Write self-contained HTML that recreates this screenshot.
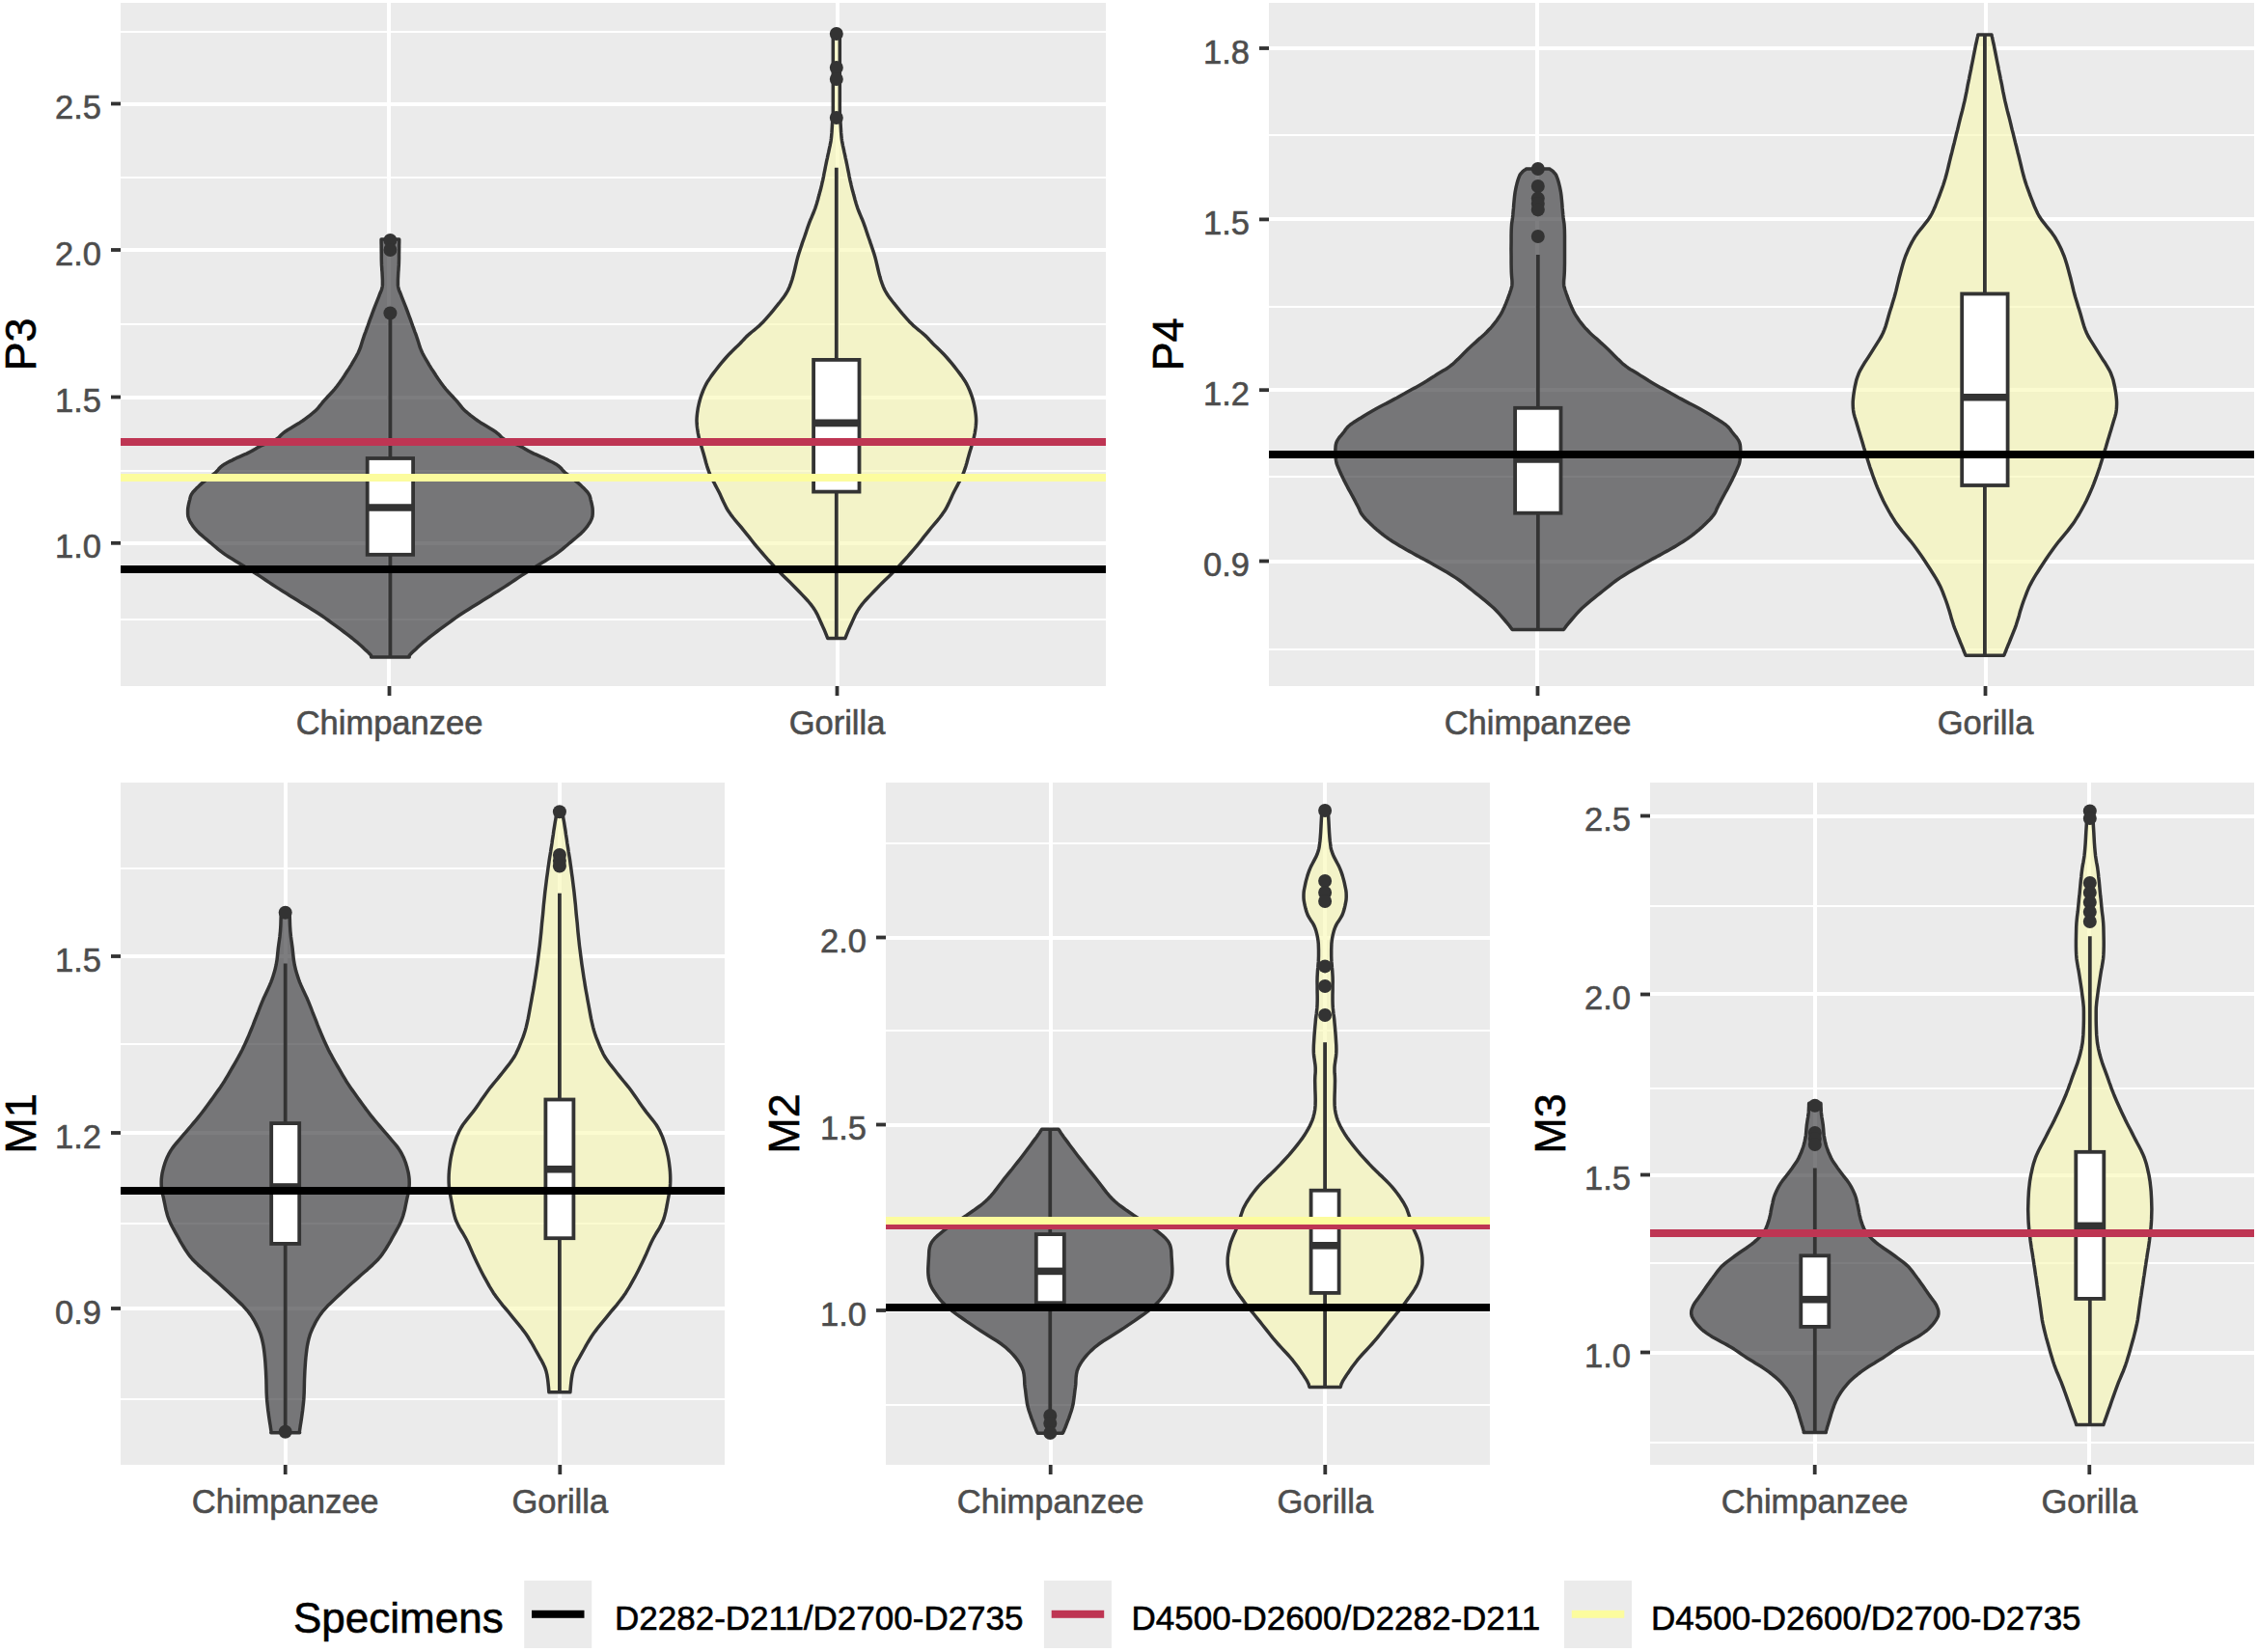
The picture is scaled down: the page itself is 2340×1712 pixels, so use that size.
<!DOCTYPE html>
<html><head><meta charset="utf-8"><style>
html,body{margin:0;padding:0;background:#fff;}
body{width:2340px;height:1712px;overflow:hidden;}
svg{display:block;font-family:"Liberation Sans",sans-serif;}
text{stroke-width:0.6px;}
.g{fill:#4D4D4D;stroke:#4D4D4D;}
.k{fill:#000;stroke:#000;}
</style></head><body>
<svg width="2340" height="1712" viewBox="0 0 2340 1712">
<rect width="2340" height="1712" fill="#FFFFFF"/>
<defs><clipPath id="cP3"><rect x="125" y="3" width="1021" height="708"/></clipPath></defs>
<rect x="125" y="3" width="1021" height="708" fill="#EBEBEB"/>
<g clip-path="url(#cP3)">
<line x1="125" x2="1146" y1="642.0" y2="642.0" stroke="#FFF" stroke-width="2"/>
<line x1="125" x2="1146" y1="488.0" y2="488.0" stroke="#FFF" stroke-width="2"/>
<line x1="125" x2="1146" y1="336.0" y2="336.0" stroke="#FFF" stroke-width="2"/>
<line x1="125" x2="1146" y1="184.0" y2="184.0" stroke="#FFF" stroke-width="2"/>
<line x1="125" x2="1146" y1="33.0" y2="33.0" stroke="#FFF" stroke-width="2"/>
<line x1="125" x2="1146" y1="563.0" y2="563.0" stroke="#FFF" stroke-width="4"/>
<line x1="125" x2="1146" y1="412.0" y2="412.0" stroke="#FFF" stroke-width="4"/>
<line x1="125" x2="1146" y1="259.0" y2="259.0" stroke="#FFF" stroke-width="4"/>
<line x1="125" x2="1146" y1="108.0" y2="108.0" stroke="#FFF" stroke-width="4"/>
<line x1="403.0" x2="403.0" y1="3" y2="711" stroke="#FFF" stroke-width="4"/>
<line x1="868.0" x2="868.0" y1="3" y2="711" stroke="#FFF" stroke-width="4"/>
<path d="M395.1,248.1 L395.1,250.8 L395.2,254.7 L395.2,259.2 L395.3,263.9 L395.3,268.3 L395.4,272.0 L395.5,274.9 L395.7,277.5 L395.8,279.8 L396.0,281.9 L396.1,284.0 L396.2,286.0 L396.3,288.0 L396.4,290.0 L396.4,291.9 L396.4,293.7 L396.4,295.4 L396.2,297.0 L395.9,298.4 L395.6,299.7 L395.2,300.8 L394.7,302.0 L394.1,303.5 L393.4,305.2 L392.6,307.3 L391.6,309.8 L390.6,312.4 L389.5,315.1 L388.4,317.9 L387.4,320.5 L386.4,323.1 L385.5,325.6 L384.6,328.1 L383.6,330.7 L382.7,333.2 L381.8,335.8 L380.9,338.4 L379.9,341.0 L379.0,343.6 L378.0,346.2 L377.1,348.7 L376.3,351.1 L375.6,353.3 L374.9,355.5 L374.3,357.5 L373.7,359.5 L372.9,361.5 L372.1,363.6 L371.1,365.7 L370.0,367.8 L368.8,370.0 L367.6,372.1 L366.4,374.2 L365.2,376.2 L364.1,378.1 L363.0,379.9 L361.9,381.7 L360.7,383.4 L359.5,385.3 L358.2,387.3 L356.8,389.5 L355.3,391.7 L353.7,394.1 L352.0,396.5 L350.3,398.8 L348.5,401.2 L346.5,403.6 L344.4,406.0 L342.1,408.5 L339.9,410.8 L337.8,413.1 L335.9,415.2 L334.3,417.0 L333.0,418.7 L331.8,420.2 L330.6,421.7 L329.3,423.3 L327.6,424.9 L325.7,426.7 L323.5,428.5 L321.3,430.4 L318.9,432.2 L316.3,434.1 L313.7,436.0 L310.8,437.9 L307.7,439.8 L304.4,441.8 L301.2,443.7 L298.2,445.5 L295.6,447.2 L293.5,448.8 L291.9,450.2 L290.5,451.6 L289.2,453.0 L287.7,454.3 L285.8,455.5 L283.5,456.7 L281.0,457.8 L278.3,458.8 L275.6,459.9 L273.0,460.9 L270.5,462.0 L268.3,463.1 L266.2,464.3 L264.3,465.4 L262.3,466.6 L260.2,467.7 L258.0,468.9 L255.6,470.1 L253.0,471.2 L250.3,472.4 L247.6,473.6 L245.0,474.7 L242.6,475.9 L240.3,477.1 L238.0,478.2 L235.8,479.3 L233.7,480.5 L231.8,481.6 L230.1,482.8 L228.7,483.9 L227.6,485.0 L226.7,486.0 L225.8,487.2 L224.7,488.4 L223.2,489.8 L221.2,491.4 L218.9,493.2 L216.4,495.2 L213.8,497.1 L211.4,499.1 L209.2,500.9 L207.3,502.6 L205.4,504.4 L203.6,506.1 L202.1,507.7 L200.7,509.2 L199.5,510.7 L198.6,512.0 L198.0,513.1 L197.6,514.1 L197.3,515.1 L197.0,516.2 L196.7,517.6 L196.3,519.2 L195.8,521.1 L195.4,523.0 L195.0,525.0 L194.7,527.0 L194.6,528.8 L194.6,530.5 L194.6,532.1 L194.7,533.6 L194.9,535.2 L195.4,536.8 L196.0,538.5 L196.9,540.3 L197.9,542.1 L199.2,544.0 L200.5,545.9 L202.1,547.8 L203.7,549.7 L205.5,551.5 L207.4,553.4 L209.5,555.2 L211.6,557.0 L213.9,558.9 L216.2,560.8 L218.6,562.8 L221.1,565.0 L223.7,567.1 L226.3,569.3 L228.9,571.4 L231.5,573.3 L234.0,575.1 L236.5,576.7 L239.0,578.3 L241.5,579.8 L244.1,581.4 L246.8,583.1 L249.6,584.8 L252.5,586.6 L255.5,588.4 L258.6,590.2 L261.7,592.2 L264.9,594.2 L268.2,596.4 L271.6,598.6 L275.1,601.0 L278.6,603.4 L282.2,605.7 L285.8,608.1 L289.4,610.4 L293.1,612.8 L296.9,615.1 L300.6,617.4 L304.4,619.8 L308.1,622.1 L311.9,624.4 L315.6,626.7 L319.4,629.1 L323.2,631.4 L326.9,633.7 L330.4,636.0 L333.8,638.3 L337.1,640.6 L340.4,643.0 L343.5,645.3 L346.7,647.6 L349.8,649.9 L352.9,652.2 L356.0,654.5 L359.1,656.8 L362.1,659.2 L365.1,661.5 L367.9,663.8 L370.8,666.2 L373.7,668.8 L376.6,671.4 L379.2,673.9 L381.5,676.0 L383.2,677.7 L384.3,678.9 L384.7,679.7 L384.9,680.2 L384.8,680.5 L384.6,680.8 L384.6,681.0 L424.2,681.0 L424.2,680.8 L424.0,680.5 L423.9,680.2 L424.1,679.7 L424.5,678.9 L425.6,677.7 L427.3,676.0 L429.6,673.9 L432.2,671.4 L435.1,668.8 L438.0,666.2 L440.9,663.8 L443.7,661.5 L446.7,659.2 L449.7,656.8 L452.8,654.5 L455.9,652.2 L459.0,649.9 L462.1,647.6 L465.3,645.3 L468.4,643.0 L471.7,640.6 L475.0,638.3 L478.4,636.0 L481.9,633.7 L485.6,631.4 L489.4,629.1 L493.2,626.7 L496.9,624.4 L500.7,622.1 L504.4,619.8 L508.2,617.4 L511.9,615.1 L515.7,612.8 L519.4,610.4 L523.0,608.1 L526.6,605.7 L530.2,603.4 L533.7,601.0 L537.2,598.6 L540.6,596.4 L543.9,594.2 L547.1,592.2 L550.2,590.2 L553.3,588.4 L556.3,586.6 L559.2,584.8 L562.0,583.1 L564.7,581.4 L567.3,579.8 L569.8,578.3 L572.3,576.7 L574.8,575.1 L577.3,573.3 L579.9,571.4 L582.5,569.3 L585.1,567.1 L587.7,565.0 L590.2,562.8 L592.6,560.8 L594.9,558.9 L597.2,557.0 L599.3,555.2 L601.4,553.4 L603.3,551.5 L605.1,549.7 L606.7,547.8 L608.3,545.9 L609.6,544.0 L610.9,542.1 L611.9,540.3 L612.8,538.5 L613.4,536.8 L613.9,535.2 L614.1,533.6 L614.2,532.1 L614.2,530.5 L614.2,528.8 L614.1,527.0 L613.8,525.0 L613.4,523.0 L613.0,521.1 L612.5,519.2 L612.1,517.6 L611.8,516.2 L611.5,515.1 L611.2,514.1 L610.8,513.1 L610.2,512.0 L609.3,510.7 L608.1,509.2 L606.7,507.7 L605.1,506.1 L603.4,504.4 L601.5,502.6 L599.6,500.9 L597.4,499.1 L595.0,497.1 L592.4,495.2 L589.9,493.2 L587.6,491.4 L585.6,489.8 L584.1,488.4 L583.0,487.2 L582.1,486.0 L581.2,485.0 L580.1,483.9 L578.7,482.8 L577.0,481.6 L575.1,480.5 L573.0,479.3 L570.8,478.2 L568.5,477.1 L566.2,475.9 L563.8,474.7 L561.2,473.6 L558.5,472.4 L555.8,471.2 L553.2,470.1 L550.8,468.9 L548.6,467.7 L546.5,466.6 L544.5,465.4 L542.6,464.3 L540.5,463.1 L538.3,462.0 L535.8,460.9 L533.2,459.9 L530.5,458.8 L527.8,457.8 L525.3,456.7 L523.0,455.5 L521.1,454.3 L519.6,453.0 L518.3,451.6 L516.9,450.2 L515.2,448.8 L513.2,447.2 L510.6,445.5 L507.6,443.7 L504.4,441.8 L501.1,439.8 L498.0,437.9 L495.1,436.0 L492.5,434.1 L489.9,432.2 L487.5,430.4 L485.3,428.5 L483.1,426.7 L481.2,424.9 L479.5,423.3 L478.2,421.7 L477.0,420.2 L475.8,418.7 L474.5,417.0 L472.9,415.2 L471.0,413.1 L468.9,410.8 L466.7,408.5 L464.4,406.0 L462.3,403.6 L460.3,401.2 L458.5,398.8 L456.8,396.5 L455.1,394.1 L453.5,391.7 L452.0,389.5 L450.6,387.3 L449.3,385.3 L448.1,383.4 L446.9,381.7 L445.8,379.9 L444.7,378.1 L443.6,376.2 L442.4,374.2 L441.2,372.1 L440.0,370.0 L438.8,367.8 L437.7,365.7 L436.7,363.6 L435.9,361.5 L435.1,359.5 L434.5,357.5 L433.9,355.5 L433.2,353.3 L432.5,351.1 L431.7,348.7 L430.8,346.2 L429.8,343.6 L428.9,341.0 L427.9,338.4 L427.0,335.8 L426.1,333.2 L425.2,330.7 L424.2,328.1 L423.3,325.6 L422.4,323.1 L421.4,320.5 L420.4,317.9 L419.3,315.1 L418.2,312.4 L417.2,309.8 L416.2,307.3 L415.4,305.2 L414.7,303.5 L414.1,302.0 L413.6,300.8 L413.2,299.7 L412.9,298.4 L412.6,297.0 L412.4,295.4 L412.4,293.7 L412.4,291.9 L412.4,290.0 L412.5,288.0 L412.6,286.0 L412.7,284.0 L412.8,281.9 L413.0,279.8 L413.1,277.5 L413.3,274.9 L413.4,272.0 L413.5,268.3 L413.5,263.9 L413.6,259.2 L413.6,254.7 L413.7,250.8 L413.7,248.1Z" fill="#333337" fill-opacity="0.64" stroke="#333333" stroke-width="3.5" stroke-linejoin="round"/>
<path d="M863.3,37.0 L863.3,46.9 L863.3,61.4 L863.3,78.2 L863.3,95.0 L863.3,109.6 L863.3,119.9 L863.3,125.0 L863.2,126.7 L863.1,126.3 L863.1,124.9 L862.9,123.9 L862.8,124.6 L862.6,127.0 L862.4,130.1 L862.2,133.6 L862.0,137.2 L861.7,140.6 L861.4,143.5 L861.1,145.8 L860.8,147.7 L860.4,149.4 L860.1,151.1 L859.7,152.9 L859.2,155.1 L858.7,157.7 L858.0,160.6 L857.4,163.6 L856.7,166.7 L856.1,169.7 L855.5,172.5 L855.0,175.1 L854.5,177.6 L854.0,180.0 L853.6,182.3 L853.1,184.7 L852.6,187.1 L852.0,189.5 L851.5,191.9 L850.9,194.4 L850.3,196.8 L849.6,199.2 L849.0,201.6 L848.3,204.0 L847.7,206.4 L847.0,208.8 L846.3,211.3 L845.5,213.7 L844.7,216.1 L843.8,218.5 L842.8,221.0 L841.8,223.4 L840.8,225.8 L839.7,228.3 L838.8,230.7 L837.9,233.1 L837.0,235.6 L836.2,238.0 L835.4,240.5 L834.6,242.9 L833.8,245.2 L833.0,247.5 L832.2,249.7 L831.4,251.9 L830.7,254.1 L830.0,256.2 L829.3,258.3 L828.7,260.2 L828.1,261.9 L827.6,263.6 L827.1,265.3 L826.5,267.3 L825.9,269.7 L825.2,272.6 L824.4,276.0 L823.6,279.5 L822.7,283.2 L821.8,286.6 L820.9,289.7 L820.0,292.4 L819.2,294.7 L818.3,297.0 L817.4,299.1 L816.3,301.3 L814.9,303.7 L813.3,306.2 L811.4,308.9 L809.4,311.5 L807.3,314.2 L805.1,316.9 L802.9,319.6 L800.7,322.3 L798.4,325.1 L796.0,327.8 L793.6,330.6 L791.3,333.2 L788.9,335.6 L786.5,337.9 L784.0,340.0 L781.5,342.1 L779.1,344.0 L776.9,345.9 L774.9,347.6 L773.3,349.1 L772.0,350.5 L770.9,351.7 L769.8,352.9 L768.5,354.3 L766.9,356.0 L764.9,357.9 L762.7,360.0 L760.4,362.3 L757.9,364.7 L755.4,367.3 L752.9,370.0 L750.3,373.0 L747.4,376.4 L744.6,379.9 L741.8,383.5 L739.2,386.9 L737.0,389.9 L735.2,392.6 L733.6,394.9 L732.3,397.1 L731.2,399.3 L730.1,401.5 L729.0,403.9 L728.0,406.5 L727.0,409.1 L726.1,411.8 L725.3,414.5 L724.6,417.2 L724.0,419.9 L723.4,422.6 L723.0,425.2 L722.6,427.9 L722.3,430.6 L722.1,433.2 L722.0,435.9 L722.1,438.5 L722.3,441.2 L722.6,443.8 L723.0,446.4 L723.4,449.1 L724.0,451.9 L724.6,454.7 L725.4,457.6 L726.2,460.6 L727.1,463.6 L728.1,466.7 L729.0,469.8 L729.9,473.0 L730.8,476.3 L731.7,479.7 L732.7,483.1 L733.8,486.4 L735.0,489.8 L736.4,493.1 L738.0,496.5 L739.8,499.8 L741.5,503.1 L743.3,506.5 L745.0,509.8 L746.6,513.1 L748.1,516.5 L749.6,519.8 L751.2,523.1 L752.9,526.5 L754.9,529.8 L757.2,533.1 L759.8,536.5 L762.5,539.8 L765.3,543.1 L768.2,546.5 L770.9,549.8 L773.5,553.1 L776.2,556.4 L778.8,559.8 L781.4,563.1 L784.1,566.4 L786.9,569.7 L789.8,573.0 L792.7,576.4 L795.6,579.7 L798.7,583.0 L801.8,586.4 L804.9,589.7 L808.1,593.0 L811.5,596.4 L814.9,599.7 L818.3,603.0 L821.7,606.4 L824.9,609.7 L828.1,613.0 L831.3,616.4 L834.5,619.7 L837.5,623.0 L840.3,626.4 L842.8,629.7 L845.0,633.1 L846.9,636.6 L848.6,640.2 L850.1,643.6 L851.5,646.7 L852.8,649.6 L854.0,652.2 L855.0,654.6 L855.9,656.8 L856.7,658.8 L857.3,660.4 L857.8,661.6 L875.8,661.6 L876.3,660.4 L876.9,658.8 L877.7,656.8 L878.6,654.6 L879.6,652.2 L880.8,649.6 L882.1,646.7 L883.5,643.6 L885.0,640.2 L886.7,636.6 L888.6,633.1 L890.8,629.7 L893.3,626.4 L896.1,623.0 L899.1,619.7 L902.3,616.4 L905.5,613.0 L908.7,609.7 L911.9,606.4 L915.3,603.0 L918.7,599.7 L922.1,596.4 L925.5,593.0 L928.7,589.7 L931.8,586.4 L934.9,583.0 L937.9,579.7 L940.9,576.4 L943.8,573.0 L946.7,569.7 L949.5,566.4 L952.2,563.1 L954.8,559.8 L957.4,556.4 L960.1,553.1 L962.7,549.8 L965.4,546.5 L968.3,543.1 L971.1,539.8 L973.8,536.5 L976.4,533.1 L978.7,529.8 L980.7,526.5 L982.4,523.1 L984.0,519.8 L985.5,516.5 L987.0,513.1 L988.6,509.8 L990.3,506.5 L992.1,503.1 L993.8,499.8 L995.6,496.5 L997.2,493.1 L998.6,489.8 L999.8,486.4 L1000.9,483.1 L1001.9,479.7 L1002.8,476.3 L1003.7,473.0 L1004.6,469.8 L1005.5,466.7 L1006.5,463.6 L1007.3,460.6 L1008.2,457.6 L1009.0,454.7 L1009.6,451.9 L1010.2,449.1 L1010.6,446.4 L1011.0,443.8 L1011.3,441.2 L1011.5,438.5 L1011.6,435.9 L1011.5,433.2 L1011.3,430.6 L1011.0,427.9 L1010.6,425.2 L1010.2,422.6 L1009.6,419.9 L1009.0,417.2 L1008.3,414.5 L1007.5,411.8 L1006.6,409.1 L1005.6,406.5 L1004.6,403.9 L1003.5,401.5 L1002.4,399.3 L1001.3,397.1 L1000.0,394.9 L998.4,392.6 L996.6,389.9 L994.4,386.9 L991.8,383.5 L989.0,379.9 L986.2,376.4 L983.3,373.0 L980.7,370.0 L978.2,367.3 L975.7,364.7 L973.2,362.3 L970.9,360.0 L968.7,357.9 L966.7,356.0 L965.1,354.3 L963.8,352.9 L962.7,351.7 L961.6,350.5 L960.3,349.1 L958.7,347.6 L956.7,345.9 L954.5,344.0 L952.1,342.1 L949.6,340.0 L947.1,337.9 L944.7,335.6 L942.3,333.2 L940.0,330.6 L937.6,327.8 L935.2,325.1 L932.9,322.3 L930.7,319.6 L928.5,316.9 L926.3,314.2 L924.2,311.5 L922.2,308.9 L920.3,306.2 L918.7,303.7 L917.3,301.3 L916.2,299.1 L915.3,297.0 L914.4,294.7 L913.6,292.4 L912.7,289.7 L911.8,286.6 L910.9,283.2 L910.0,279.5 L909.2,276.0 L908.4,272.6 L907.7,269.7 L907.1,267.3 L906.5,265.3 L906.0,263.6 L905.5,261.9 L904.9,260.2 L904.3,258.3 L903.6,256.2 L902.9,254.1 L902.1,251.9 L901.4,249.7 L900.6,247.5 L899.8,245.2 L899.0,242.9 L898.2,240.5 L897.4,238.0 L896.6,235.6 L895.7,233.1 L894.8,230.7 L893.9,228.3 L892.8,225.8 L891.8,223.4 L890.8,221.0 L889.8,218.5 L888.9,216.1 L888.1,213.7 L887.3,211.3 L886.6,208.8 L885.9,206.4 L885.3,204.0 L884.6,201.6 L884.0,199.2 L883.3,196.8 L882.7,194.4 L882.1,191.9 L881.6,189.5 L881.0,187.1 L880.5,184.7 L880.0,182.3 L879.6,180.0 L879.1,177.6 L878.6,175.1 L878.1,172.5 L877.5,169.7 L876.9,166.7 L876.2,163.6 L875.6,160.6 L874.9,157.7 L874.4,155.1 L873.9,152.9 L873.5,151.1 L873.2,149.4 L872.8,147.7 L872.5,145.8 L872.2,143.5 L871.9,140.6 L871.6,137.2 L871.4,133.6 L871.2,130.1 L871.0,127.0 L870.8,124.6 L870.7,123.9 L870.5,124.9 L870.5,126.3 L870.4,126.7 L870.3,125.0 L870.3,119.9 L870.3,109.6 L870.3,95.0 L870.3,78.2 L870.3,61.4 L870.3,46.9 L870.3,37.0Z" fill="#F8F8B1" fill-opacity="0.6" stroke="#333333" stroke-width="3.5" stroke-linejoin="round"/>
<line x1="404.4" x2="404.4" y1="330.0" y2="475.0" stroke="#333333" stroke-width="3.8"/>
<line x1="404.4" x2="404.4" y1="574.8" y2="681.0" stroke="#333333" stroke-width="3.8"/>
<rect x="380.7" y="475.0" width="47.4" height="99.8" fill="#FFFFFF" stroke="#333333" stroke-width="3.8"/>
<line x1="380.7" x2="428.1" y1="526.0" y2="526.0" stroke="#333333" stroke-width="7.6"/>
<circle cx="404.4" cy="249.0" r="7" fill="#333333"/>
<circle cx="404.4" cy="259.0" r="7" fill="#333333"/>
<circle cx="404.4" cy="324.5" r="7" fill="#333333"/>
<line x1="866.8" x2="866.8" y1="173.8" y2="372.9" stroke="#333333" stroke-width="3.8"/>
<line x1="866.8" x2="866.8" y1="509.6" y2="661.6" stroke="#333333" stroke-width="3.8"/>
<rect x="843.1" y="372.9" width="47.4" height="136.7" fill="#FFFFFF" stroke="#333333" stroke-width="3.8"/>
<line x1="843.1" x2="890.5" y1="438.4" y2="438.4" stroke="#333333" stroke-width="7.6"/>
<circle cx="866.8" cy="35.0" r="7" fill="#333333"/>
<circle cx="866.8" cy="70.0" r="7" fill="#333333"/>
<circle cx="866.8" cy="82.0" r="7" fill="#333333"/>
<circle cx="866.8" cy="122.0" r="7" fill="#333333"/>
<rect x="125" y="586" width="1021" height="8" fill="#000000"/>
<rect x="125" y="454" width="1021" height="8" fill="#BE3553"/>
<rect x="125" y="491" width="1021" height="8" fill="#FCFC9E"/>
</g>
<line x1="115" x2="125" y1="562.8" y2="562.8" stroke="#333333" stroke-width="3.8"/>
<text x="105" y="578.4" font-size="34.5" class="g" text-anchor="end">1.0</text>
<line x1="115" x2="125" y1="411.5" y2="411.5" stroke="#333333" stroke-width="3.8"/>
<text x="105" y="427.1" font-size="34.5" class="g" text-anchor="end">1.5</text>
<line x1="115" x2="125" y1="259.0" y2="259.0" stroke="#333333" stroke-width="3.8"/>
<text x="105" y="274.6" font-size="34.5" class="g" text-anchor="end">2.0</text>
<line x1="115" x2="125" y1="107.5" y2="107.5" stroke="#333333" stroke-width="3.8"/>
<text x="105" y="123.1" font-size="34.5" class="g" text-anchor="end">2.5</text>
<line x1="403.5" x2="403.5" y1="711" y2="721" stroke="#333333" stroke-width="3.8"/>
<text x="403.5" y="760.5" font-size="34.5" class="g" text-anchor="middle">Chimpanzee</text>
<line x1="867.5" x2="867.5" y1="711" y2="721" stroke="#333333" stroke-width="3.8"/>
<text x="867.5" y="760.5" font-size="34.5" class="g" text-anchor="middle">Gorilla</text>
<text transform="translate(21,357.0) rotate(-90)" x="0" y="16" font-size="45" class="k" text-anchor="middle">P3</text>
<defs><clipPath id="cP4"><rect x="1315" y="3" width="1021" height="708"/></clipPath></defs>
<rect x="1315" y="3" width="1021" height="708" fill="#EBEBEB"/>
<g clip-path="url(#cP4)">
<line x1="1315" x2="2336" y1="673.0" y2="673.0" stroke="#FFF" stroke-width="2"/>
<line x1="1315" x2="2336" y1="494.0" y2="494.0" stroke="#FFF" stroke-width="2"/>
<line x1="1315" x2="2336" y1="318.0" y2="318.0" stroke="#FFF" stroke-width="2"/>
<line x1="1315" x2="2336" y1="140.0" y2="140.0" stroke="#FFF" stroke-width="2"/>
<line x1="1315" x2="2336" y1="582.0" y2="582.0" stroke="#FFF" stroke-width="4"/>
<line x1="1315" x2="2336" y1="404.0" y2="404.0" stroke="#FFF" stroke-width="4"/>
<line x1="1315" x2="2336" y1="227.0" y2="227.0" stroke="#FFF" stroke-width="4"/>
<line x1="1315" x2="2336" y1="50.0" y2="50.0" stroke="#FFF" stroke-width="4"/>
<line x1="1593.0" x2="1593.0" y1="3" y2="711" stroke="#FFF" stroke-width="4"/>
<line x1="2058.0" x2="2058.0" y1="3" y2="711" stroke="#FFF" stroke-width="4"/>
<path d="M1581.8,175.0 L1581.4,175.3 L1580.8,175.7 L1580.0,176.2 L1579.3,176.7 L1578.5,177.3 L1577.8,178.0 L1577.2,178.7 L1576.6,179.3 L1576.0,180.0 L1575.3,180.9 L1574.7,182.1 L1574.1,183.6 L1573.4,185.5 L1572.7,187.8 L1572.0,190.3 L1571.3,193.1 L1570.7,196.1 L1570.1,199.3 L1569.6,202.9 L1569.2,206.9 L1568.8,211.2 L1568.5,215.4 L1568.1,219.4 L1567.8,223.0 L1567.5,225.8 L1567.2,228.0 L1566.9,229.9 L1566.6,232.0 L1566.4,234.8 L1566.2,238.7 L1566.1,244.2 L1566.1,250.9 L1566.0,258.3 L1566.1,265.8 L1566.1,272.5 L1566.2,278.0 L1566.3,282.1 L1566.5,285.4 L1566.7,288.0 L1566.9,290.1 L1567.0,292.0 L1567.0,293.8 L1566.9,295.4 L1566.8,296.5 L1566.6,297.3 L1566.4,298.1 L1566.1,298.9 L1565.8,300.0 L1565.4,301.3 L1564.9,302.8 L1564.4,304.3 L1563.8,305.8 L1563.3,307.4 L1562.7,308.9 L1562.2,310.4 L1561.6,311.8 L1561.0,313.3 L1560.5,314.8 L1559.8,316.2 L1559.2,317.7 L1558.5,319.2 L1557.8,320.7 L1557.1,322.2 L1556.4,323.6 L1555.6,325.1 L1554.7,326.6 L1553.8,328.1 L1552.8,329.5 L1551.8,331.0 L1550.8,332.5 L1549.7,333.9 L1548.5,335.4 L1547.3,336.9 L1546.1,338.4 L1544.8,339.9 L1543.4,341.3 L1542.0,342.8 L1540.6,344.3 L1539.1,345.8 L1537.5,347.2 L1535.8,348.7 L1534.1,350.2 L1532.4,351.6 L1530.8,353.1 L1529.2,354.6 L1527.5,356.1 L1525.9,357.5 L1524.3,359.0 L1522.7,360.5 L1521.1,362.0 L1519.6,363.5 L1518.1,365.0 L1516.6,366.5 L1515.2,367.9 L1513.7,369.4 L1512.2,370.9 L1510.7,372.4 L1509.2,373.8 L1507.7,375.3 L1506.1,376.8 L1504.4,378.2 L1502.5,379.7 L1500.4,381.2 L1498.1,382.7 L1495.7,384.1 L1493.2,385.6 L1490.7,387.1 L1488.3,388.6 L1486.0,390.1 L1483.6,391.5 L1481.3,393.0 L1479.0,394.5 L1476.6,395.9 L1474.1,397.4 L1471.5,398.9 L1468.9,400.4 L1466.3,401.9 L1463.6,403.3 L1460.9,404.8 L1458.2,406.3 L1455.6,407.8 L1452.9,409.2 L1450.3,410.7 L1447.7,412.2 L1445.0,413.6 L1442.3,415.1 L1439.5,416.6 L1436.7,418.1 L1433.8,419.5 L1430.9,421.0 L1428.1,422.5 L1425.4,424.0 L1422.8,425.5 L1420.2,427.0 L1417.6,428.5 L1415.1,430.0 L1412.7,431.5 L1410.4,432.9 L1408.1,434.3 L1405.9,435.7 L1403.8,437.0 L1401.8,438.4 L1399.9,439.7 L1398.3,441.0 L1396.9,442.3 L1395.8,443.5 L1394.8,444.7 L1393.9,445.9 L1393.0,447.2 L1392.0,448.5 L1390.9,449.9 L1389.7,451.3 L1388.5,452.7 L1387.4,454.1 L1386.4,455.6 L1385.6,457.0 L1385.0,458.4 L1384.6,459.6 L1384.3,460.9 L1384.1,462.3 L1384.0,463.8 L1383.9,465.4 L1383.9,467.3 L1383.9,469.5 L1384.0,471.7 L1384.2,474.0 L1384.4,476.2 L1384.7,478.1 L1385.0,479.7 L1385.4,481.1 L1385.9,482.4 L1386.4,483.6 L1387.0,485.0 L1387.7,486.6 L1388.5,488.5 L1389.4,490.5 L1390.4,492.7 L1391.5,494.9 L1392.5,497.1 L1393.6,499.3 L1394.7,501.4 L1395.8,503.5 L1396.9,505.6 L1398.1,507.8 L1399.3,509.9 L1400.4,512.0 L1401.6,514.2 L1402.8,516.4 L1404.0,518.6 L1405.1,520.8 L1406.2,522.8 L1407.2,524.7 L1408.0,526.4 L1408.7,527.8 L1409.2,529.2 L1409.8,530.5 L1410.5,531.8 L1411.4,533.2 L1412.5,534.6 L1413.6,536.0 L1414.9,537.5 L1416.3,538.9 L1417.7,540.3 L1419.1,541.7 L1420.5,543.1 L1422.0,544.5 L1423.5,546.0 L1425.1,547.4 L1426.7,548.8 L1428.4,550.2 L1430.1,551.6 L1431.8,553.0 L1433.6,554.4 L1435.5,555.8 L1437.4,557.2 L1439.4,558.6 L1441.5,560.0 L1443.7,561.4 L1445.9,562.8 L1448.3,564.3 L1450.6,565.7 L1453.0,567.1 L1455.5,568.5 L1458.0,570.0 L1460.6,571.4 L1463.2,572.8 L1465.7,574.2 L1468.2,575.6 L1470.4,576.8 L1472.4,577.9 L1474.4,578.9 L1476.5,580.0 L1479.0,581.4 L1482.0,583.1 L1485.8,585.3 L1490.2,587.8 L1495.0,590.5 L1499.9,593.3 L1504.6,596.2 L1508.8,598.9 L1512.6,601.5 L1516.1,604.1 L1519.5,606.8 L1522.7,609.4 L1526.0,612.0 L1529.2,614.6 L1532.5,617.2 L1535.8,619.8 L1539.0,622.4 L1542.2,625.1 L1545.2,627.7 L1548.1,630.3 L1550.8,633.0 L1553.5,635.9 L1556.1,638.8 L1558.4,641.5 L1560.5,644.0 L1562.3,646.1 L1563.7,647.8 L1564.7,649.1 L1565.5,650.2 L1566.1,651.1 L1566.6,651.8 L1567.0,652.4 L1620.6,652.4 L1621.0,651.8 L1621.5,651.1 L1622.1,650.2 L1622.9,649.1 L1623.9,647.8 L1625.3,646.1 L1627.1,644.0 L1629.2,641.5 L1631.5,638.8 L1634.1,635.9 L1636.8,633.0 L1639.5,630.3 L1642.4,627.7 L1645.4,625.1 L1648.6,622.4 L1651.8,619.8 L1655.1,617.2 L1658.4,614.6 L1661.6,612.0 L1664.9,609.4 L1668.1,606.8 L1671.5,604.1 L1675.0,601.5 L1678.8,598.9 L1683.0,596.2 L1687.7,593.3 L1692.6,590.5 L1697.4,587.8 L1701.8,585.3 L1705.6,583.1 L1708.6,581.4 L1711.1,580.0 L1713.2,578.9 L1715.2,577.9 L1717.2,576.8 L1719.4,575.6 L1721.9,574.2 L1724.4,572.8 L1727.0,571.4 L1729.6,570.0 L1732.1,568.5 L1734.6,567.1 L1737.0,565.7 L1739.3,564.3 L1741.7,562.8 L1743.9,561.4 L1746.1,560.0 L1748.2,558.6 L1750.2,557.2 L1752.1,555.8 L1754.0,554.4 L1755.8,553.0 L1757.5,551.6 L1759.2,550.2 L1760.9,548.8 L1762.5,547.4 L1764.1,546.0 L1765.6,544.5 L1767.1,543.1 L1768.5,541.7 L1769.9,540.3 L1771.3,538.9 L1772.7,537.5 L1774.0,536.0 L1775.1,534.6 L1776.2,533.2 L1777.1,531.8 L1777.8,530.5 L1778.4,529.2 L1778.9,527.8 L1779.6,526.4 L1780.4,524.7 L1781.4,522.8 L1782.5,520.8 L1783.6,518.6 L1784.8,516.4 L1786.0,514.2 L1787.2,512.0 L1788.3,509.9 L1789.5,507.8 L1790.7,505.6 L1791.8,503.5 L1792.9,501.4 L1794.0,499.3 L1795.1,497.1 L1796.1,494.9 L1797.2,492.7 L1798.2,490.5 L1799.1,488.5 L1799.9,486.6 L1800.6,485.0 L1801.2,483.6 L1801.7,482.4 L1802.2,481.1 L1802.6,479.7 L1802.9,478.1 L1803.2,476.2 L1803.4,474.0 L1803.6,471.7 L1803.7,469.5 L1803.7,467.3 L1803.7,465.4 L1803.6,463.8 L1803.5,462.3 L1803.3,460.9 L1803.0,459.6 L1802.6,458.4 L1802.0,457.0 L1801.2,455.6 L1800.2,454.1 L1799.1,452.7 L1797.9,451.3 L1796.7,449.9 L1795.6,448.5 L1794.6,447.2 L1793.7,445.9 L1792.8,444.7 L1791.8,443.5 L1790.7,442.3 L1789.3,441.0 L1787.7,439.7 L1785.8,438.4 L1783.8,437.0 L1781.7,435.7 L1779.5,434.3 L1777.2,432.9 L1774.9,431.5 L1772.5,430.0 L1770.0,428.5 L1767.4,427.0 L1764.8,425.5 L1762.2,424.0 L1759.5,422.5 L1756.7,421.0 L1753.8,419.5 L1750.9,418.1 L1748.1,416.6 L1745.3,415.1 L1742.6,413.6 L1739.9,412.2 L1737.3,410.7 L1734.7,409.2 L1732.0,407.8 L1729.4,406.3 L1726.7,404.8 L1724.0,403.3 L1721.3,401.9 L1718.7,400.4 L1716.1,398.9 L1713.5,397.4 L1711.0,395.9 L1708.6,394.5 L1706.3,393.0 L1704.0,391.5 L1701.6,390.1 L1699.3,388.6 L1696.9,387.1 L1694.4,385.6 L1691.9,384.1 L1689.5,382.7 L1687.2,381.2 L1685.1,379.7 L1683.2,378.2 L1681.5,376.8 L1679.9,375.3 L1678.4,373.8 L1676.9,372.4 L1675.4,370.9 L1673.9,369.4 L1672.4,367.9 L1671.0,366.5 L1669.5,365.0 L1668.0,363.5 L1666.5,362.0 L1664.9,360.5 L1663.3,359.0 L1661.7,357.5 L1660.1,356.1 L1658.4,354.6 L1656.8,353.1 L1655.2,351.6 L1653.5,350.2 L1651.8,348.7 L1650.1,347.2 L1648.5,345.8 L1647.0,344.3 L1645.6,342.8 L1644.2,341.3 L1642.8,339.9 L1641.5,338.4 L1640.3,336.9 L1639.1,335.4 L1637.9,333.9 L1636.8,332.5 L1635.8,331.0 L1634.8,329.5 L1633.8,328.1 L1632.9,326.6 L1632.0,325.1 L1631.2,323.6 L1630.5,322.2 L1629.8,320.7 L1629.1,319.2 L1628.4,317.7 L1627.8,316.2 L1627.1,314.8 L1626.6,313.3 L1626.0,311.8 L1625.4,310.4 L1624.9,308.9 L1624.3,307.4 L1623.8,305.8 L1623.2,304.3 L1622.7,302.8 L1622.2,301.3 L1621.8,300.0 L1621.5,298.9 L1621.2,298.1 L1621.0,297.3 L1620.8,296.5 L1620.7,295.4 L1620.6,293.8 L1620.6,292.0 L1620.7,290.1 L1620.9,288.0 L1621.1,285.4 L1621.3,282.1 L1621.4,278.0 L1621.5,272.5 L1621.5,265.8 L1621.5,258.3 L1621.5,250.9 L1621.5,244.2 L1621.4,238.7 L1621.2,234.8 L1621.0,232.0 L1620.7,229.9 L1620.4,228.0 L1620.1,225.8 L1619.8,223.0 L1619.5,219.4 L1619.1,215.4 L1618.8,211.2 L1618.4,206.9 L1618.0,202.9 L1617.5,199.3 L1616.9,196.1 L1616.3,193.1 L1615.6,190.3 L1614.9,187.8 L1614.2,185.5 L1613.5,183.6 L1612.9,182.1 L1612.3,180.9 L1611.6,180.0 L1611.0,179.3 L1610.4,178.7 L1609.8,178.0 L1609.1,177.3 L1608.3,176.7 L1607.6,176.2 L1606.8,175.7 L1606.2,175.3 L1605.8,175.0Z" fill="#333337" fill-opacity="0.64" stroke="#333333" stroke-width="3.5" stroke-linejoin="round"/>
<path d="M2049.9,36.0 L2049.7,36.9 L2049.5,37.9 L2049.2,39.2 L2048.8,40.9 L2048.4,42.8 L2047.9,45.0 L2047.3,47.7 L2046.7,50.9 L2046.0,54.3 L2045.3,57.9 L2044.6,61.5 L2043.9,65.0 L2043.2,68.3 L2042.6,71.6 L2041.9,75.0 L2041.2,78.3 L2040.6,81.6 L2039.9,84.9 L2039.2,88.2 L2038.6,91.6 L2038.0,94.9 L2037.3,98.2 L2036.6,101.6 L2035.9,104.9 L2035.1,108.2 L2034.3,111.6 L2033.5,114.9 L2032.6,118.2 L2031.7,121.6 L2030.9,124.9 L2030.1,128.2 L2029.3,131.6 L2028.5,134.9 L2027.6,138.2 L2026.8,141.6 L2026.0,144.9 L2025.2,148.2 L2024.3,151.5 L2023.5,154.9 L2022.7,158.2 L2021.8,161.5 L2021.0,164.8 L2020.2,168.1 L2019.4,171.5 L2018.6,174.8 L2017.8,178.1 L2016.9,181.5 L2016.0,184.8 L2015.0,188.1 L2013.9,191.5 L2012.7,194.8 L2011.5,198.1 L2010.3,201.5 L2009.0,204.8 L2007.7,208.1 L2006.4,211.5 L2005.1,214.8 L2003.6,218.1 L2002.0,221.5 L2000.1,224.8 L1997.9,228.1 L1995.3,231.4 L1992.6,234.8 L1989.9,238.1 L1987.3,241.4 L1985.0,244.7 L1983.0,248.0 L1981.1,251.4 L1979.4,254.7 L1977.8,258.0 L1976.4,261.4 L1975.0,264.7 L1973.8,268.0 L1972.7,271.4 L1971.7,274.7 L1970.8,278.0 L1969.9,281.4 L1969.0,284.7 L1968.1,288.0 L1967.3,291.4 L1966.5,294.7 L1965.7,298.0 L1964.9,301.4 L1964.0,304.7 L1963.1,308.0 L1962.1,311.3 L1961.1,314.6 L1960.1,317.9 L1959.0,321.3 L1958.0,324.6 L1957.0,328.0 L1956.1,331.3 L1955.1,334.7 L1954.1,338.1 L1952.8,341.6 L1951.4,345.0 L1949.7,348.5 L1947.7,351.9 L1945.5,355.4 L1943.3,358.9 L1941.1,362.4 L1938.9,365.9 L1936.7,369.4 L1934.4,372.9 L1932.1,376.3 L1930.0,379.8 L1928.0,383.3 L1926.3,386.8 L1925.0,390.3 L1923.8,393.9 L1923.0,397.5 L1922.2,401.0 L1921.6,404.5 L1921.1,407.7 L1920.7,410.8 L1920.4,413.7 L1920.2,416.4 L1920.2,419.1 L1920.3,421.8 L1920.5,424.4 L1920.8,426.9 L1921.3,429.2 L1921.9,431.4 L1922.6,433.7 L1923.4,436.2 L1924.2,439.0 L1925.1,442.1 L1926.1,445.5 L1927.2,449.1 L1928.3,452.7 L1929.4,456.3 L1930.5,459.9 L1931.5,463.4 L1932.6,466.9 L1933.6,470.4 L1934.6,473.8 L1935.7,477.3 L1936.8,480.8 L1937.9,484.3 L1939.1,487.7 L1940.3,491.2 L1941.5,494.7 L1942.8,498.1 L1944.1,501.6 L1945.5,505.1 L1947.0,508.6 L1948.5,512.0 L1950.1,515.5 L1951.7,519.0 L1953.5,522.5 L1955.4,526.0 L1957.3,529.5 L1959.3,533.0 L1961.4,536.4 L1963.6,539.9 L1966.0,543.4 L1968.6,546.9 L1971.3,550.4 L1974.2,553.8 L1977.1,557.3 L1980.0,560.8 L1982.7,564.3 L1985.3,567.8 L1987.8,571.3 L1990.3,574.8 L1992.7,578.2 L1995.0,581.7 L1997.3,585.2 L1999.6,588.7 L2001.8,592.2 L2004.0,595.7 L2006.1,599.1 L2008.1,602.6 L2009.9,606.1 L2011.6,609.6 L2013.1,613.1 L2014.4,616.6 L2015.7,620.0 L2017.0,623.5 L2018.2,627.0 L2019.3,630.5 L2020.4,633.9 L2021.4,637.4 L2022.3,640.9 L2023.4,644.3 L2024.5,647.8 L2025.8,651.4 L2027.3,655.1 L2028.8,658.9 L2030.3,662.5 L2031.6,665.8 L2032.8,668.7 L2033.8,671.2 L2034.7,673.4 L2035.4,675.3 L2036.1,676.9 L2036.6,678.2 L2037.0,679.2 L2076.8,679.2 L2077.2,678.2 L2077.7,676.9 L2078.4,675.3 L2079.1,673.4 L2080.0,671.2 L2081.0,668.7 L2082.2,665.8 L2083.5,662.5 L2085.0,658.9 L2086.5,655.1 L2088.0,651.4 L2089.3,647.8 L2090.4,644.3 L2091.5,640.9 L2092.5,637.4 L2093.4,633.9 L2094.5,630.5 L2095.6,627.0 L2096.8,623.5 L2098.1,620.0 L2099.4,616.6 L2100.7,613.1 L2102.2,609.6 L2103.9,606.1 L2105.7,602.6 L2107.7,599.1 L2109.8,595.7 L2112.0,592.2 L2114.2,588.7 L2116.5,585.2 L2118.8,581.7 L2121.1,578.2 L2123.5,574.8 L2126.0,571.3 L2128.5,567.8 L2131.1,564.3 L2133.8,560.8 L2136.7,557.3 L2139.6,553.8 L2142.5,550.4 L2145.2,546.9 L2147.8,543.4 L2150.2,539.9 L2152.4,536.4 L2154.5,533.0 L2156.5,529.5 L2158.4,526.0 L2160.3,522.5 L2162.1,519.0 L2163.7,515.5 L2165.3,512.0 L2166.8,508.6 L2168.3,505.1 L2169.7,501.6 L2171.0,498.1 L2172.3,494.7 L2173.5,491.2 L2174.7,487.7 L2175.9,484.3 L2177.0,480.8 L2178.1,477.3 L2179.2,473.8 L2180.2,470.4 L2181.2,466.9 L2182.3,463.4 L2183.3,459.9 L2184.4,456.3 L2185.5,452.7 L2186.6,449.1 L2187.7,445.5 L2188.7,442.1 L2189.6,439.0 L2190.4,436.2 L2191.2,433.7 L2191.9,431.4 L2192.5,429.2 L2193.0,426.9 L2193.3,424.4 L2193.5,421.8 L2193.6,419.1 L2193.6,416.4 L2193.4,413.7 L2193.1,410.8 L2192.7,407.7 L2192.2,404.5 L2191.6,401.0 L2190.8,397.5 L2190.0,393.9 L2188.8,390.3 L2187.5,386.8 L2185.8,383.3 L2183.8,379.8 L2181.7,376.3 L2179.4,372.9 L2177.1,369.4 L2174.9,365.9 L2172.7,362.4 L2170.5,358.9 L2168.3,355.4 L2166.1,351.9 L2164.1,348.5 L2162.4,345.0 L2161.0,341.6 L2159.7,338.1 L2158.7,334.7 L2157.7,331.3 L2156.8,328.0 L2155.8,324.6 L2154.8,321.3 L2153.7,317.9 L2152.7,314.6 L2151.7,311.3 L2150.7,308.0 L2149.8,304.7 L2148.9,301.4 L2148.1,298.0 L2147.3,294.7 L2146.5,291.4 L2145.7,288.0 L2144.8,284.7 L2143.9,281.4 L2143.0,278.0 L2142.1,274.7 L2141.1,271.4 L2140.0,268.0 L2138.8,264.7 L2137.4,261.4 L2136.0,258.0 L2134.4,254.7 L2132.7,251.4 L2130.8,248.0 L2128.8,244.7 L2126.5,241.4 L2123.9,238.1 L2121.2,234.8 L2118.5,231.4 L2115.9,228.1 L2113.7,224.8 L2111.8,221.5 L2110.2,218.1 L2108.7,214.8 L2107.4,211.5 L2106.1,208.1 L2104.8,204.8 L2103.5,201.5 L2102.3,198.1 L2101.1,194.8 L2099.9,191.5 L2098.8,188.1 L2097.8,184.8 L2096.9,181.5 L2096.0,178.1 L2095.2,174.8 L2094.4,171.5 L2093.6,168.1 L2092.8,164.8 L2092.0,161.5 L2091.1,158.2 L2090.3,154.9 L2089.5,151.5 L2088.6,148.2 L2087.8,144.9 L2087.0,141.6 L2086.2,138.2 L2085.3,134.9 L2084.5,131.6 L2083.7,128.2 L2082.9,124.9 L2082.1,121.6 L2081.2,118.2 L2080.3,114.9 L2079.5,111.6 L2078.7,108.2 L2077.9,104.9 L2077.2,101.6 L2076.5,98.2 L2075.8,94.9 L2075.2,91.6 L2074.6,88.2 L2073.9,84.9 L2073.2,81.6 L2072.6,78.3 L2071.9,75.0 L2071.2,71.6 L2070.6,68.3 L2069.9,65.0 L2069.2,61.5 L2068.5,57.9 L2067.8,54.3 L2067.1,50.9 L2066.5,47.7 L2065.9,45.0 L2065.4,42.8 L2065.0,40.9 L2064.7,39.2 L2064.3,37.9 L2064.1,36.9 L2063.9,36.0Z" fill="#F8F8B1" fill-opacity="0.6" stroke="#333333" stroke-width="3.5" stroke-linejoin="round"/>
<line x1="1593.8" x2="1593.8" y1="263.9" y2="422.8" stroke="#333333" stroke-width="3.8"/>
<line x1="1593.8" x2="1593.8" y1="531.7" y2="652.4" stroke="#333333" stroke-width="3.8"/>
<rect x="1570.1" y="422.8" width="47.4" height="108.9" fill="#FFFFFF" stroke="#333333" stroke-width="3.8"/>
<line x1="1570.1" x2="1617.5" y1="476.0" y2="476.0" stroke="#333333" stroke-width="7.6"/>
<circle cx="1593.8" cy="175.0" r="7" fill="#333333"/>
<circle cx="1593.8" cy="193.0" r="7" fill="#333333"/>
<circle cx="1593.8" cy="205.6" r="7" fill="#333333"/>
<circle cx="1593.8" cy="211.0" r="7" fill="#333333"/>
<circle cx="1593.8" cy="217.4" r="7" fill="#333333"/>
<circle cx="1593.8" cy="245.0" r="7" fill="#333333"/>
<line x1="2056.9" x2="2056.9" y1="36.0" y2="304.5" stroke="#333333" stroke-width="3.8"/>
<line x1="2056.9" x2="2056.9" y1="503.0" y2="679.2" stroke="#333333" stroke-width="3.8"/>
<rect x="2033.2" y="304.5" width="47.4" height="198.5" fill="#FFFFFF" stroke="#333333" stroke-width="3.8"/>
<line x1="2033.2" x2="2080.6" y1="411.8" y2="411.8" stroke="#333333" stroke-width="7.6"/>
<rect x="1315" y="467" width="1021" height="8" fill="#000000"/>
</g>
<line x1="1305" x2="1315" y1="581.5" y2="581.5" stroke="#333333" stroke-width="3.8"/>
<text x="1295" y="597.1" font-size="34.5" class="g" text-anchor="end">0.9</text>
<line x1="1305" x2="1315" y1="404.2" y2="404.2" stroke="#333333" stroke-width="3.8"/>
<text x="1295" y="419.8" font-size="34.5" class="g" text-anchor="end">1.2</text>
<line x1="1305" x2="1315" y1="227.4" y2="227.4" stroke="#333333" stroke-width="3.8"/>
<text x="1295" y="243.0" font-size="34.5" class="g" text-anchor="end">1.5</text>
<line x1="1305" x2="1315" y1="50.0" y2="50.0" stroke="#333333" stroke-width="3.8"/>
<text x="1295" y="65.6" font-size="34.5" class="g" text-anchor="end">1.8</text>
<line x1="1593.5" x2="1593.5" y1="711" y2="721" stroke="#333333" stroke-width="3.8"/>
<text x="1593.5" y="760.5" font-size="34.5" class="g" text-anchor="middle">Chimpanzee</text>
<line x1="2057.5" x2="2057.5" y1="711" y2="721" stroke="#333333" stroke-width="3.8"/>
<text x="2057.5" y="760.5" font-size="34.5" class="g" text-anchor="middle">Gorilla</text>
<text transform="translate(1210,357.0) rotate(-90)" x="0" y="16" font-size="45" class="k" text-anchor="middle">P4</text>
<defs><clipPath id="cM1"><rect x="125" y="811" width="626" height="707"/></clipPath></defs>
<rect x="125" y="811" width="626" height="707" fill="#EBEBEB"/>
<g clip-path="url(#cM1)">
<line x1="125" x2="751" y1="1450.0" y2="1450.0" stroke="#FFF" stroke-width="2"/>
<line x1="125" x2="751" y1="1268.0" y2="1268.0" stroke="#FFF" stroke-width="2"/>
<line x1="125" x2="751" y1="1082.0" y2="1082.0" stroke="#FFF" stroke-width="2"/>
<line x1="125" x2="751" y1="900.0" y2="900.0" stroke="#FFF" stroke-width="2"/>
<line x1="125" x2="751" y1="1356.0" y2="1356.0" stroke="#FFF" stroke-width="4"/>
<line x1="125" x2="751" y1="1174.0" y2="1174.0" stroke="#FFF" stroke-width="4"/>
<line x1="125" x2="751" y1="991.0" y2="991.0" stroke="#FFF" stroke-width="4"/>
<line x1="296.0" x2="296.0" y1="811" y2="1518" stroke="#FFF" stroke-width="4"/>
<line x1="580.0" x2="580.0" y1="811" y2="1518" stroke="#FFF" stroke-width="4"/>
<path d="M291.3,947.6 L291.2,949.5 L291.1,952.1 L291.0,955.2 L290.9,958.6 L290.7,962.0 L290.5,965.1 L290.2,968.0 L289.9,971.0 L289.5,973.9 L289.1,976.8 L288.7,979.8 L288.3,982.7 L288.0,985.6 L287.7,988.5 L287.4,991.5 L287.1,994.4 L286.6,997.3 L286.1,1000.2 L285.4,1003.1 L284.7,1006.1 L283.8,1009.0 L282.9,1011.9 L281.9,1014.9 L280.8,1017.8 L279.6,1020.7 L278.3,1023.6 L277.0,1026.5 L275.6,1029.5 L274.2,1032.4 L272.9,1035.3 L271.7,1038.2 L270.5,1041.2 L269.3,1044.1 L268.2,1047.0 L267.1,1050.0 L265.9,1052.9 L264.7,1055.8 L263.6,1058.7 L262.5,1061.7 L261.3,1064.6 L260.1,1067.5 L258.9,1070.4 L257.7,1073.3 L256.4,1076.3 L255.1,1079.2 L253.8,1082.1 L252.4,1085.1 L251.0,1088.0 L249.5,1090.9 L247.9,1093.8 L246.3,1096.8 L244.7,1099.7 L243.0,1102.6 L241.3,1105.5 L239.6,1108.4 L237.9,1111.4 L236.2,1114.3 L234.5,1117.2 L232.7,1120.2 L230.8,1123.1 L228.9,1126.0 L226.9,1128.9 L224.8,1131.8 L222.7,1134.8 L220.6,1137.7 L218.5,1140.6 L216.4,1143.5 L214.2,1146.5 L212.1,1149.4 L209.9,1152.3 L207.6,1155.3 L205.3,1158.2 L202.9,1161.1 L200.4,1164.0 L197.9,1167.0 L195.4,1169.9 L192.9,1172.8 L190.4,1175.7 L187.9,1178.6 L185.4,1181.6 L182.9,1184.5 L180.5,1187.4 L178.3,1190.4 L176.4,1193.3 L174.8,1196.2 L173.3,1199.2 L172.1,1202.1 L171.0,1205.0 L170.1,1207.9 L169.3,1210.8 L168.6,1213.6 L168.0,1216.4 L167.6,1219.2 L167.3,1222.0 L167.2,1224.8 L167.2,1227.6 L167.4,1230.5 L167.8,1233.4 L168.3,1236.3 L168.9,1239.2 L169.6,1242.2 L170.2,1245.1 L170.8,1248.0 L171.4,1251.0 L172.0,1253.9 L172.8,1256.8 L173.6,1259.8 L174.6,1262.7 L175.8,1265.6 L177.1,1268.5 L178.6,1271.5 L180.2,1274.4 L181.8,1277.3 L183.4,1280.2 L185.1,1283.2 L186.8,1286.3 L188.6,1289.4 L190.5,1292.5 L192.2,1295.3 L193.9,1297.8 L195.4,1299.9 L196.6,1301.6 L197.9,1303.2 L199.2,1304.7 L200.7,1306.3 L202.7,1308.3 L205.1,1310.6 L207.9,1313.1 L210.8,1315.8 L214.0,1318.5 L217.2,1321.3 L220.3,1324.1 L223.4,1326.9 L226.7,1329.8 L230.0,1332.7 L233.2,1335.7 L236.5,1338.7 L239.6,1341.6 L242.7,1344.5 L245.8,1347.5 L248.9,1350.4 L251.9,1353.3 L254.6,1356.3 L257.1,1359.2 L259.3,1362.1 L261.3,1365.1 L263.1,1368.0 L264.7,1370.9 L266.2,1373.9 L267.6,1376.8 L268.8,1379.6 L269.9,1382.3 L270.7,1385.0 L271.5,1387.8 L272.2,1390.9 L272.9,1394.3 L273.5,1398.2 L274.0,1402.4 L274.5,1406.9 L274.9,1411.5 L275.2,1416.1 L275.5,1420.6 L275.7,1425.1 L275.9,1429.7 L276.0,1434.3 L276.1,1438.9 L276.2,1443.1 L276.4,1447.0 L276.6,1450.4 L276.9,1453.5 L277.2,1456.3 L277.5,1459.0 L277.8,1461.7 L278.2,1464.5 L278.6,1467.6 L279.1,1470.9 L279.6,1474.2 L280.1,1477.3 L280.5,1480.0 L280.8,1482.1 L281.0,1483.4 L281.0,1484.2 L281.0,1484.5 L280.9,1484.6 L280.8,1484.6 L280.8,1484.7 L310.6,1484.7 L310.6,1484.6 L310.5,1484.6 L310.4,1484.5 L310.4,1484.2 L310.4,1483.4 L310.6,1482.1 L310.9,1480.0 L311.3,1477.3 L311.8,1474.2 L312.3,1470.9 L312.8,1467.6 L313.2,1464.5 L313.6,1461.7 L313.9,1459.0 L314.2,1456.3 L314.5,1453.5 L314.8,1450.4 L315.0,1447.0 L315.2,1443.1 L315.3,1438.9 L315.4,1434.3 L315.5,1429.7 L315.7,1425.1 L315.9,1420.6 L316.2,1416.1 L316.5,1411.5 L316.9,1406.9 L317.4,1402.4 L317.9,1398.2 L318.5,1394.3 L319.2,1390.9 L319.9,1387.8 L320.7,1385.0 L321.5,1382.3 L322.6,1379.6 L323.8,1376.8 L325.2,1373.9 L326.7,1370.9 L328.3,1368.0 L330.1,1365.1 L332.1,1362.1 L334.3,1359.2 L336.8,1356.3 L339.5,1353.3 L342.5,1350.4 L345.6,1347.5 L348.7,1344.5 L351.8,1341.6 L354.9,1338.7 L358.2,1335.7 L361.4,1332.7 L364.7,1329.8 L368.0,1326.9 L371.1,1324.1 L374.2,1321.3 L377.4,1318.5 L380.6,1315.8 L383.5,1313.1 L386.3,1310.6 L388.7,1308.3 L390.7,1306.3 L392.2,1304.7 L393.5,1303.2 L394.8,1301.6 L396.0,1299.9 L397.5,1297.8 L399.2,1295.3 L400.9,1292.5 L402.8,1289.4 L404.6,1286.3 L406.3,1283.2 L408.0,1280.2 L409.6,1277.3 L411.2,1274.4 L412.8,1271.5 L414.3,1268.5 L415.6,1265.6 L416.8,1262.7 L417.8,1259.8 L418.6,1256.8 L419.4,1253.9 L420.0,1251.0 L420.6,1248.0 L421.2,1245.1 L421.8,1242.2 L422.5,1239.2 L423.1,1236.3 L423.6,1233.4 L424.0,1230.5 L424.2,1227.6 L424.2,1224.8 L424.1,1222.0 L423.8,1219.2 L423.4,1216.4 L422.8,1213.6 L422.1,1210.8 L421.3,1207.9 L420.4,1205.0 L419.3,1202.1 L418.1,1199.2 L416.6,1196.2 L415.0,1193.3 L413.1,1190.4 L410.9,1187.4 L408.5,1184.5 L406.0,1181.6 L403.5,1178.6 L401.0,1175.7 L398.5,1172.8 L396.0,1169.9 L393.5,1167.0 L391.0,1164.0 L388.5,1161.1 L386.1,1158.2 L383.8,1155.3 L381.5,1152.3 L379.3,1149.4 L377.2,1146.5 L375.0,1143.5 L372.9,1140.6 L370.8,1137.7 L368.7,1134.8 L366.6,1131.8 L364.5,1128.9 L362.5,1126.0 L360.6,1123.1 L358.7,1120.2 L356.9,1117.2 L355.2,1114.3 L353.5,1111.4 L351.8,1108.4 L350.1,1105.5 L348.4,1102.6 L346.7,1099.7 L345.1,1096.8 L343.5,1093.8 L341.9,1090.9 L340.4,1088.0 L339.0,1085.1 L337.6,1082.1 L336.3,1079.2 L335.0,1076.3 L333.7,1073.3 L332.5,1070.4 L331.3,1067.5 L330.1,1064.6 L328.9,1061.7 L327.8,1058.7 L326.7,1055.8 L325.5,1052.9 L324.3,1050.0 L323.2,1047.0 L322.1,1044.1 L320.9,1041.2 L319.7,1038.2 L318.5,1035.3 L317.2,1032.4 L315.8,1029.5 L314.4,1026.5 L313.1,1023.6 L311.8,1020.7 L310.6,1017.8 L309.5,1014.9 L308.5,1011.9 L307.6,1009.0 L306.7,1006.1 L306.0,1003.1 L305.3,1000.2 L304.8,997.3 L304.3,994.4 L304.0,991.5 L303.7,988.5 L303.4,985.6 L303.1,982.7 L302.7,979.8 L302.3,976.8 L301.9,973.9 L301.5,971.0 L301.2,968.0 L300.9,965.1 L300.7,962.0 L300.5,958.6 L300.4,955.2 L300.3,952.1 L300.2,949.5 L300.1,947.6Z" fill="#333337" fill-opacity="0.64" stroke="#333333" stroke-width="3.5" stroke-linejoin="round"/>
<path d="M577.1,841.3 L576.8,843.1 L576.4,845.6 L575.9,848.5 L575.3,851.7 L574.8,855.0 L574.3,858.1 L573.8,861.1 L573.4,864.2 L572.9,867.4 L572.4,870.6 L572.0,873.7 L571.5,876.9 L571.0,879.9 L570.6,882.8 L570.1,885.7 L569.6,888.7 L569.1,892.0 L568.6,895.7 L568.0,899.8 L567.4,904.4 L566.7,909.2 L566.1,914.1 L565.5,919.0 L564.9,923.8 L564.4,928.5 L563.9,933.2 L563.4,937.9 L563.0,942.6 L562.6,947.3 L562.1,952.0 L561.6,956.7 L561.2,961.4 L560.8,966.0 L560.3,970.7 L559.8,975.4 L559.3,980.1 L558.7,984.8 L558.1,989.5 L557.5,994.2 L556.9,998.9 L556.2,1003.6 L555.5,1008.3 L554.8,1013.0 L554.0,1017.7 L553.3,1022.4 L552.5,1027.0 L551.6,1031.7 L550.8,1036.4 L549.9,1041.2 L549.0,1046.1 L548.1,1051.1 L547.2,1055.9 L546.2,1060.4 L545.2,1064.6 L544.2,1068.3 L543.1,1071.7 L542.0,1074.9 L540.8,1077.8 L539.7,1080.6 L538.6,1083.3 L537.6,1085.8 L536.6,1088.0 L535.6,1090.1 L534.6,1092.2 L533.5,1094.3 L532.1,1096.5 L530.5,1098.9 L528.8,1101.2 L527.0,1103.7 L525.0,1106.2 L522.9,1108.8 L520.8,1111.5 L518.5,1114.4 L516.1,1117.4 L513.5,1120.5 L510.9,1123.6 L508.3,1126.8 L505.9,1130.0 L503.6,1133.2 L501.3,1136.4 L499.1,1139.6 L496.9,1142.9 L494.6,1146.2 L492.3,1149.4 L489.9,1152.6 L487.3,1155.8 L484.7,1159.1 L482.2,1162.3 L479.8,1165.5 L477.8,1168.7 L476.1,1171.9 L474.6,1175.2 L473.2,1178.4 L472.1,1181.6 L471.0,1184.9 L470.0,1188.1 L469.1,1191.3 L468.3,1194.6 L467.6,1197.8 L467.0,1201.0 L466.5,1204.3 L466.1,1207.5 L465.7,1210.7 L465.4,1214.0 L465.2,1217.2 L465.1,1220.4 L465.1,1223.7 L465.2,1226.9 L465.4,1230.1 L465.8,1233.3 L466.3,1236.6 L466.9,1239.8 L467.5,1243.0 L468.1,1246.2 L468.7,1249.4 L469.3,1252.7 L470.0,1255.9 L470.8,1259.1 L471.7,1262.4 L472.9,1265.6 L474.4,1268.8 L476.1,1272.1 L478.0,1275.3 L480.0,1278.5 L481.9,1281.8 L483.6,1285.0 L485.2,1288.2 L486.6,1291.4 L488.0,1294.6 L489.4,1297.9 L490.8,1301.1 L492.3,1304.3 L493.8,1307.5 L495.4,1310.8 L497.0,1314.0 L498.6,1317.2 L500.3,1320.5 L502.0,1323.7 L503.8,1326.9 L505.6,1330.2 L507.4,1333.4 L509.4,1336.6 L511.4,1339.9 L513.6,1343.1 L516.0,1346.3 L518.5,1349.5 L521.1,1352.8 L523.8,1356.0 L526.5,1359.2 L529.1,1362.4 L531.7,1365.6 L534.4,1368.9 L537.1,1372.1 L539.7,1375.3 L542.2,1378.6 L544.6,1381.8 L546.8,1385.0 L548.8,1388.3 L550.8,1391.5 L552.6,1394.7 L554.4,1398.0 L556.2,1401.2 L558.0,1404.4 L559.8,1407.6 L561.6,1410.7 L563.2,1413.9 L564.7,1417.2 L565.9,1420.6 L566.8,1424.4 L567.5,1428.6 L568.0,1432.9 L568.4,1436.9 L568.7,1440.4 L568.9,1442.8 L590.9,1442.8 L591.1,1440.4 L591.4,1436.9 L591.8,1432.9 L592.3,1428.6 L593.0,1424.4 L593.9,1420.6 L595.1,1417.2 L596.6,1413.9 L598.2,1410.7 L600.0,1407.6 L601.8,1404.4 L603.6,1401.2 L605.4,1398.0 L607.2,1394.7 L609.0,1391.5 L611.0,1388.3 L613.0,1385.0 L615.2,1381.8 L617.6,1378.6 L620.1,1375.3 L622.7,1372.1 L625.4,1368.9 L628.1,1365.6 L630.7,1362.4 L633.3,1359.2 L636.0,1356.0 L638.7,1352.8 L641.3,1349.5 L643.8,1346.3 L646.2,1343.1 L648.4,1339.9 L650.4,1336.6 L652.4,1333.4 L654.2,1330.2 L656.0,1326.9 L657.8,1323.7 L659.5,1320.5 L661.2,1317.2 L662.8,1314.0 L664.4,1310.8 L666.0,1307.5 L667.5,1304.3 L669.0,1301.1 L670.4,1297.9 L671.8,1294.6 L673.2,1291.4 L674.6,1288.2 L676.2,1285.0 L677.9,1281.8 L679.8,1278.5 L681.8,1275.3 L683.7,1272.1 L685.4,1268.8 L686.9,1265.6 L688.1,1262.4 L689.0,1259.1 L689.8,1255.9 L690.5,1252.7 L691.1,1249.4 L691.7,1246.2 L692.3,1243.0 L692.9,1239.8 L693.5,1236.6 L694.0,1233.3 L694.4,1230.1 L694.6,1226.9 L694.7,1223.7 L694.7,1220.4 L694.6,1217.2 L694.4,1214.0 L694.1,1210.7 L693.7,1207.5 L693.3,1204.3 L692.8,1201.0 L692.2,1197.8 L691.5,1194.6 L690.7,1191.3 L689.8,1188.1 L688.8,1184.9 L687.7,1181.6 L686.6,1178.4 L685.2,1175.2 L683.7,1171.9 L682.0,1168.7 L680.0,1165.5 L677.6,1162.3 L675.1,1159.1 L672.5,1155.8 L669.9,1152.6 L667.5,1149.4 L665.2,1146.2 L662.9,1142.9 L660.7,1139.6 L658.5,1136.4 L656.2,1133.2 L653.9,1130.0 L651.5,1126.8 L648.9,1123.6 L646.3,1120.5 L643.7,1117.4 L641.3,1114.4 L639.0,1111.5 L636.9,1108.8 L634.8,1106.2 L632.8,1103.7 L631.0,1101.2 L629.3,1098.9 L627.7,1096.5 L626.3,1094.3 L625.2,1092.2 L624.2,1090.1 L623.2,1088.0 L622.2,1085.8 L621.2,1083.3 L620.1,1080.6 L619.0,1077.8 L617.8,1074.9 L616.7,1071.7 L615.6,1068.3 L614.6,1064.6 L613.6,1060.4 L612.6,1055.9 L611.7,1051.1 L610.8,1046.1 L609.9,1041.2 L609.0,1036.4 L608.2,1031.7 L607.3,1027.0 L606.5,1022.4 L605.8,1017.7 L605.0,1013.0 L604.3,1008.3 L603.6,1003.6 L602.9,998.9 L602.3,994.2 L601.7,989.5 L601.1,984.8 L600.5,980.1 L600.0,975.4 L599.5,970.7 L599.0,966.0 L598.6,961.4 L598.2,956.7 L597.7,952.0 L597.2,947.3 L596.8,942.6 L596.4,937.9 L595.9,933.2 L595.4,928.5 L594.9,923.8 L594.3,919.0 L593.7,914.1 L593.1,909.2 L592.4,904.4 L591.8,899.8 L591.2,895.7 L590.7,892.0 L590.2,888.7 L589.7,885.7 L589.2,882.8 L588.8,879.9 L588.3,876.9 L587.8,873.7 L587.4,870.6 L586.9,867.4 L586.4,864.2 L586.0,861.1 L585.5,858.1 L585.0,855.0 L584.5,851.7 L583.9,848.5 L583.4,845.6 L583.0,843.1 L582.7,841.3Z" fill="#F8F8B1" fill-opacity="0.6" stroke="#333333" stroke-width="3.5" stroke-linejoin="round"/>
<line x1="295.7" x2="295.7" y1="998.5" y2="1164.1" stroke="#333333" stroke-width="3.8"/>
<line x1="295.7" x2="295.7" y1="1288.9" y2="1484.7" stroke="#333333" stroke-width="3.8"/>
<rect x="281.2" y="1164.1" width="29.0" height="124.8" fill="#FFFFFF" stroke="#333333" stroke-width="3.8"/>
<line x1="281.2" x2="310.2" y1="1230.0" y2="1230.0" stroke="#333333" stroke-width="7.6"/>
<circle cx="295.7" cy="945.8" r="7" fill="#333333"/>
<circle cx="295.7" cy="1483.8" r="7" fill="#333333"/>
<line x1="579.9" x2="579.9" y1="925.7" y2="1139.5" stroke="#333333" stroke-width="3.8"/>
<line x1="579.9" x2="579.9" y1="1283.2" y2="1442.8" stroke="#333333" stroke-width="3.8"/>
<rect x="565.4" y="1139.5" width="29.0" height="143.7" fill="#FFFFFF" stroke="#333333" stroke-width="3.8"/>
<line x1="565.4" x2="594.4" y1="1211.7" y2="1211.7" stroke="#333333" stroke-width="7.6"/>
<circle cx="579.9" cy="841.3" r="7" fill="#333333"/>
<circle cx="579.9" cy="886.0" r="7" fill="#333333"/>
<circle cx="579.9" cy="892.0" r="7" fill="#333333"/>
<circle cx="579.9" cy="897.5" r="7" fill="#333333"/>
<rect x="125" y="1230" width="626" height="8" fill="#000000"/>
</g>
<line x1="115" x2="125" y1="1356.0" y2="1356.0" stroke="#333333" stroke-width="3.8"/>
<text x="105" y="1371.6" font-size="34.5" class="g" text-anchor="end">0.9</text>
<line x1="115" x2="125" y1="1174.0" y2="1174.0" stroke="#333333" stroke-width="3.8"/>
<text x="105" y="1189.6" font-size="34.5" class="g" text-anchor="end">1.2</text>
<line x1="115" x2="125" y1="991.0" y2="991.0" stroke="#333333" stroke-width="3.8"/>
<text x="105" y="1006.6" font-size="34.5" class="g" text-anchor="end">1.5</text>
<line x1="295.7" x2="295.7" y1="1518" y2="1528" stroke="#333333" stroke-width="3.8"/>
<text x="295.7" y="1567.5" font-size="34.5" class="g" text-anchor="middle">Chimpanzee</text>
<line x1="580.3" x2="580.3" y1="1518" y2="1528" stroke="#333333" stroke-width="3.8"/>
<text x="580.3" y="1567.5" font-size="34.5" class="g" text-anchor="middle">Gorilla</text>
<text transform="translate(21,1164.5) rotate(-90)" x="0" y="16" font-size="45" class="k" text-anchor="middle">M1</text>
<defs><clipPath id="cM2"><rect x="918" y="811" width="626" height="707"/></clipPath></defs>
<rect x="918" y="811" width="626" height="707" fill="#EBEBEB"/>
<g clip-path="url(#cM2)">
<line x1="918" x2="1544" y1="1456.0" y2="1456.0" stroke="#FFF" stroke-width="2"/>
<line x1="918" x2="1544" y1="1262.0" y2="1262.0" stroke="#FFF" stroke-width="2"/>
<line x1="918" x2="1544" y1="1068.0" y2="1068.0" stroke="#FFF" stroke-width="2"/>
<line x1="918" x2="1544" y1="874.0" y2="874.0" stroke="#FFF" stroke-width="2"/>
<line x1="918" x2="1544" y1="1358.0" y2="1358.0" stroke="#FFF" stroke-width="4"/>
<line x1="918" x2="1544" y1="1166.0" y2="1166.0" stroke="#FFF" stroke-width="4"/>
<line x1="918" x2="1544" y1="972.0" y2="972.0" stroke="#FFF" stroke-width="4"/>
<line x1="1089.0" x2="1089.0" y1="811" y2="1518" stroke="#FFF" stroke-width="4"/>
<line x1="1373.0" x2="1373.0" y1="811" y2="1518" stroke="#FFF" stroke-width="4"/>
<path d="M1079.7,1170.3 L1079.0,1171.3 L1078.1,1172.6 L1077.1,1174.2 L1075.8,1176.0 L1074.3,1178.2 L1072.5,1180.6 L1070.4,1183.4 L1068.0,1186.7 L1065.3,1190.3 L1062.5,1194.0 L1059.7,1197.7 L1057.0,1201.2 L1054.3,1204.6 L1051.6,1208.0 L1048.9,1211.5 L1046.1,1214.9 L1043.3,1218.3 L1040.6,1221.7 L1037.9,1225.2 L1035.2,1228.8 L1032.5,1232.4 L1029.8,1235.9 L1027.0,1239.2 L1024.1,1242.3 L1021.2,1245.0 L1018.3,1247.5 L1015.4,1249.8 L1012.3,1252.0 L1009.1,1254.3 L1005.6,1256.7 L1001.7,1259.4 L997.5,1262.1 L993.1,1265.0 L988.7,1267.8 L984.6,1270.5 L980.9,1273.2 L977.6,1275.7 L974.6,1278.1 L971.8,1280.4 L969.3,1282.7 L967.2,1285.1 L965.4,1287.6 L964.1,1290.2 L963.4,1292.8 L962.9,1295.5 L962.7,1298.2 L962.6,1301.1 L962.4,1304.1 L962.2,1307.4 L962.0,1310.9 L961.8,1314.5 L961.8,1318.1 L962.0,1321.5 L962.4,1324.6 L963.0,1327.3 L963.7,1329.8 L964.5,1332.0 L965.6,1334.3 L966.9,1336.5 L968.5,1339.0 L970.3,1341.6 L972.2,1344.2 L974.3,1346.9 L976.7,1349.6 L979.6,1352.5 L982.9,1355.5 L986.8,1358.7 L991.4,1362.1 L996.3,1365.5 L1001.4,1369.1 L1006.6,1372.6 L1011.7,1376.1 L1016.9,1379.5 L1022.4,1383.0 L1027.9,1386.4 L1033.3,1389.8 L1038.3,1393.3 L1042.6,1396.7 L1046.3,1400.1 L1049.7,1403.6 L1052.6,1407.0 L1055.1,1410.4 L1057.3,1413.9 L1059.1,1417.3 L1060.4,1420.7 L1061.1,1424.1 L1061.5,1427.5 L1061.7,1431.0 L1061.8,1434.4 L1062.2,1437.8 L1062.7,1441.2 L1063.1,1444.7 L1063.5,1448.1 L1064.0,1451.5 L1064.5,1455.0 L1065.3,1458.4 L1066.3,1462.0 L1067.6,1465.8 L1068.9,1469.6 L1070.3,1473.2 L1071.5,1476.4 L1072.5,1479.0 L1073.3,1480.9 L1073.9,1482.4 L1074.3,1483.4 L1074.7,1484.1 L1075.0,1484.7 L1075.3,1485.2 L1101.3,1485.2 L1101.6,1484.7 L1101.9,1484.1 L1102.2,1483.4 L1102.7,1482.4 L1103.3,1480.9 L1104.1,1479.0 L1105.1,1476.4 L1106.3,1473.2 L1107.7,1469.6 L1109.0,1465.8 L1110.3,1462.0 L1111.3,1458.4 L1112.1,1455.0 L1112.6,1451.5 L1113.1,1448.1 L1113.5,1444.7 L1113.9,1441.2 L1114.4,1437.8 L1114.8,1434.4 L1114.9,1431.0 L1115.1,1427.5 L1115.5,1424.1 L1116.2,1420.7 L1117.5,1417.3 L1119.3,1413.9 L1121.5,1410.4 L1124.0,1407.0 L1126.9,1403.6 L1130.3,1400.1 L1134.0,1396.7 L1138.3,1393.3 L1143.3,1389.8 L1148.7,1386.4 L1154.2,1383.0 L1159.7,1379.5 L1164.9,1376.1 L1170.0,1372.6 L1175.2,1369.1 L1180.3,1365.5 L1185.2,1362.1 L1189.8,1358.7 L1193.7,1355.5 L1197.0,1352.5 L1199.9,1349.6 L1202.3,1346.9 L1204.4,1344.2 L1206.3,1341.6 L1208.1,1339.0 L1209.7,1336.5 L1211.0,1334.3 L1212.0,1332.0 L1212.9,1329.8 L1213.6,1327.3 L1214.2,1324.6 L1214.6,1321.5 L1214.8,1318.1 L1214.8,1314.5 L1214.6,1310.9 L1214.4,1307.4 L1214.2,1304.1 L1214.0,1301.1 L1213.9,1298.2 L1213.7,1295.5 L1213.2,1292.8 L1212.5,1290.2 L1211.2,1287.6 L1209.4,1285.1 L1207.3,1282.7 L1204.8,1280.4 L1202.0,1278.1 L1199.0,1275.7 L1195.7,1273.2 L1192.0,1270.5 L1187.9,1267.8 L1183.5,1265.0 L1179.1,1262.1 L1174.9,1259.4 L1171.0,1256.7 L1167.5,1254.3 L1164.3,1252.0 L1161.2,1249.8 L1158.3,1247.5 L1155.4,1245.0 L1152.5,1242.3 L1149.6,1239.2 L1146.8,1235.9 L1144.1,1232.4 L1141.4,1228.8 L1138.7,1225.2 L1136.0,1221.7 L1133.3,1218.3 L1130.5,1214.9 L1127.7,1211.5 L1125.0,1208.0 L1122.3,1204.6 L1119.6,1201.2 L1116.9,1197.7 L1114.1,1194.0 L1111.3,1190.3 L1108.6,1186.7 L1106.2,1183.4 L1104.1,1180.6 L1102.3,1178.2 L1100.8,1176.0 L1099.5,1174.2 L1098.5,1172.6 L1097.6,1171.3 L1096.9,1170.3Z" fill="#333337" fill-opacity="0.64" stroke="#333333" stroke-width="3.5" stroke-linejoin="round"/>
<path d="M1369.8,841.9 L1369.6,845.4 L1369.3,850.3 L1369.0,856.1 L1368.7,862.0 L1368.3,867.5 L1367.9,871.9 L1367.5,875.0 L1367.2,877.4 L1366.8,879.4 L1366.4,881.1 L1365.8,882.9 L1365.1,885.0 L1364.1,887.4 L1362.8,889.9 L1361.5,892.4 L1360.1,895.0 L1358.7,897.6 L1357.6,900.1 L1356.6,902.6 L1355.7,905.1 L1354.9,907.6 L1354.2,910.1 L1353.5,912.6 L1352.9,915.1 L1352.4,917.6 L1351.9,920.0 L1351.4,922.5 L1351.1,925.0 L1351.0,927.5 L1351.0,930.1 L1351.2,932.9 L1351.7,935.7 L1352.3,938.7 L1353.0,941.6 L1353.8,944.4 L1354.7,947.0 L1355.8,949.4 L1357.1,951.6 L1358.4,953.7 L1359.8,955.7 L1361.1,957.9 L1362.2,960.1 L1363.1,962.4 L1363.9,964.8 L1364.5,967.2 L1365.1,969.7 L1365.6,972.4 L1366.0,975.1 L1366.3,978.0 L1366.4,981.1 L1366.5,984.3 L1366.5,987.5 L1366.5,990.7 L1366.4,993.9 L1366.3,996.9 L1366.0,999.8 L1365.8,1002.7 L1365.5,1005.7 L1365.3,1009.0 L1365.1,1012.7 L1365.0,1017.0 L1365.1,1021.7 L1365.1,1026.8 L1365.2,1031.8 L1365.2,1036.5 L1365.1,1040.8 L1364.9,1044.4 L1364.6,1047.4 L1364.3,1050.2 L1363.9,1053.0 L1363.5,1056.0 L1363.2,1059.6 L1362.8,1063.9 L1362.4,1068.6 L1362.0,1073.6 L1361.7,1078.7 L1361.4,1083.4 L1361.3,1087.7 L1361.4,1091.4 L1361.7,1094.9 L1362.2,1098.0 L1362.6,1101.0 L1363.0,1103.8 L1363.2,1106.5 L1363.2,1108.9 L1363.2,1110.8 L1363.1,1112.5 L1362.9,1114.5 L1362.8,1116.9 L1362.7,1120.0 L1362.8,1124.2 L1362.9,1129.2 L1363.1,1134.6 L1363.2,1140.1 L1363.1,1145.4 L1362.7,1150.0 L1362.0,1153.9 L1361.1,1157.4 L1360.1,1160.6 L1358.8,1163.6 L1357.4,1166.7 L1355.7,1169.9 L1353.8,1173.2 L1351.7,1176.6 L1349.4,1179.9 L1346.9,1183.2 L1344.3,1186.6 L1341.7,1189.9 L1339.0,1193.2 L1336.1,1196.6 L1333.1,1199.9 L1330.0,1203.2 L1326.9,1206.6 L1323.7,1209.9 L1320.4,1213.2 L1317.0,1216.6 L1313.4,1219.9 L1310.0,1223.2 L1306.7,1226.6 L1303.7,1229.9 L1301.0,1233.2 L1298.4,1236.5 L1295.9,1239.9 L1293.7,1243.2 L1291.6,1246.5 L1289.8,1249.8 L1288.2,1253.1 L1287.0,1256.5 L1285.9,1259.8 L1285.0,1263.1 L1283.9,1266.5 L1282.8,1269.8 L1281.5,1273.1 L1280.0,1276.5 L1278.5,1279.8 L1277.1,1283.1 L1275.8,1286.5 L1274.8,1289.8 L1274.0,1293.1 L1273.3,1296.5 L1272.7,1299.8 L1272.3,1303.1 L1272.2,1306.5 L1272.2,1309.8 L1272.5,1313.1 L1272.9,1316.4 L1273.5,1319.8 L1274.4,1323.1 L1275.5,1326.4 L1276.8,1329.7 L1278.4,1333.0 L1280.4,1336.4 L1282.6,1339.7 L1284.9,1343.0 L1287.4,1346.4 L1289.8,1349.7 L1292.3,1353.0 L1294.9,1356.4 L1297.6,1359.7 L1300.3,1363.0 L1303.0,1366.4 L1305.7,1369.7 L1308.3,1373.0 L1311.0,1376.4 L1313.6,1379.7 L1316.2,1383.0 L1318.9,1386.4 L1321.7,1389.7 L1324.6,1393.0 L1327.7,1396.4 L1330.8,1399.7 L1333.9,1403.0 L1336.9,1406.4 L1339.7,1409.7 L1342.4,1413.2 L1345.1,1416.8 L1347.6,1420.4 L1350.0,1423.9 L1352.0,1427.0 L1353.7,1429.6 L1354.9,1431.7 L1355.7,1433.4 L1356.3,1434.8 L1356.6,1436.0 L1356.9,1436.9 L1357.1,1437.6 L1389.1,1437.6 L1389.3,1436.9 L1389.6,1436.0 L1389.9,1434.8 L1390.5,1433.4 L1391.3,1431.7 L1392.5,1429.6 L1394.2,1427.0 L1396.2,1423.9 L1398.6,1420.4 L1401.1,1416.8 L1403.8,1413.2 L1406.5,1409.7 L1409.3,1406.4 L1412.3,1403.0 L1415.4,1399.7 L1418.5,1396.4 L1421.6,1393.0 L1424.5,1389.7 L1427.3,1386.4 L1430.0,1383.0 L1432.6,1379.7 L1435.2,1376.4 L1437.9,1373.0 L1440.5,1369.7 L1443.2,1366.4 L1445.9,1363.0 L1448.6,1359.7 L1451.3,1356.4 L1453.9,1353.0 L1456.4,1349.7 L1458.8,1346.4 L1461.3,1343.0 L1463.6,1339.7 L1465.8,1336.4 L1467.8,1333.0 L1469.4,1329.7 L1470.7,1326.4 L1471.8,1323.1 L1472.7,1319.8 L1473.3,1316.4 L1473.7,1313.1 L1474.0,1309.8 L1474.0,1306.5 L1473.9,1303.1 L1473.5,1299.8 L1472.9,1296.5 L1472.2,1293.1 L1471.4,1289.8 L1470.4,1286.5 L1469.1,1283.1 L1467.7,1279.8 L1466.2,1276.5 L1464.7,1273.1 L1463.4,1269.8 L1462.3,1266.5 L1461.2,1263.1 L1460.3,1259.8 L1459.2,1256.5 L1458.0,1253.1 L1456.4,1249.8 L1454.6,1246.5 L1452.5,1243.2 L1450.3,1239.9 L1447.8,1236.5 L1445.2,1233.2 L1442.5,1229.9 L1439.5,1226.6 L1436.2,1223.2 L1432.8,1219.9 L1429.2,1216.6 L1425.8,1213.2 L1422.5,1209.9 L1419.3,1206.6 L1416.2,1203.2 L1413.1,1199.9 L1410.1,1196.6 L1407.2,1193.2 L1404.5,1189.9 L1401.9,1186.6 L1399.3,1183.2 L1396.8,1179.9 L1394.5,1176.6 L1392.4,1173.2 L1390.5,1169.9 L1388.8,1166.7 L1387.4,1163.6 L1386.1,1160.6 L1385.1,1157.4 L1384.2,1153.9 L1383.5,1150.0 L1383.1,1145.4 L1383.0,1140.1 L1383.1,1134.6 L1383.3,1129.2 L1383.4,1124.2 L1383.5,1120.0 L1383.4,1116.9 L1383.3,1114.5 L1383.1,1112.5 L1383.0,1110.8 L1383.0,1108.9 L1383.0,1106.5 L1383.2,1103.8 L1383.6,1101.0 L1384.0,1098.0 L1384.5,1094.9 L1384.8,1091.4 L1384.9,1087.7 L1384.8,1083.4 L1384.5,1078.7 L1384.2,1073.6 L1383.8,1068.6 L1383.4,1063.9 L1383.0,1059.6 L1382.7,1056.0 L1382.3,1053.0 L1381.9,1050.2 L1381.6,1047.4 L1381.3,1044.4 L1381.1,1040.8 L1381.0,1036.5 L1381.0,1031.8 L1381.1,1026.8 L1381.1,1021.7 L1381.2,1017.0 L1381.1,1012.7 L1380.9,1009.0 L1380.7,1005.7 L1380.4,1002.7 L1380.2,999.8 L1379.9,996.9 L1379.8,993.9 L1379.7,990.7 L1379.7,987.5 L1379.7,984.3 L1379.8,981.1 L1379.9,978.0 L1380.2,975.1 L1380.6,972.4 L1381.1,969.7 L1381.7,967.2 L1382.3,964.8 L1383.1,962.4 L1384.0,960.1 L1385.1,957.9 L1386.4,955.7 L1387.8,953.7 L1389.1,951.6 L1390.4,949.4 L1391.5,947.0 L1392.4,944.4 L1393.2,941.6 L1393.9,938.7 L1394.5,935.7 L1395.0,932.9 L1395.2,930.1 L1395.2,927.5 L1395.1,925.0 L1394.8,922.5 L1394.3,920.0 L1393.8,917.6 L1393.3,915.1 L1392.7,912.6 L1392.0,910.1 L1391.3,907.6 L1390.5,905.1 L1389.6,902.6 L1388.6,900.1 L1387.5,897.6 L1386.1,895.0 L1384.7,892.4 L1383.4,889.9 L1382.1,887.4 L1381.1,885.0 L1380.4,882.9 L1379.8,881.1 L1379.3,879.4 L1379.0,877.4 L1378.7,875.0 L1378.3,871.9 L1377.9,867.5 L1377.5,862.0 L1377.2,856.1 L1376.9,850.3 L1376.6,845.4 L1376.4,841.9Z" fill="#F8F8B1" fill-opacity="0.6" stroke="#333333" stroke-width="3.5" stroke-linejoin="round"/>
<line x1="1088.3" x2="1088.3" y1="1170.3" y2="1279.1" stroke="#333333" stroke-width="3.8"/>
<line x1="1088.3" x2="1088.3" y1="1350.2" y2="1485.2" stroke="#333333" stroke-width="3.8"/>
<rect x="1073.8" y="1279.1" width="29.0" height="71.1" fill="#FFFFFF" stroke="#333333" stroke-width="3.8"/>
<line x1="1073.8" x2="1102.8" y1="1317.4" y2="1317.4" stroke="#333333" stroke-width="7.6"/>
<circle cx="1088.3" cy="1467.0" r="7" fill="#333333"/>
<circle cx="1088.3" cy="1475.0" r="7" fill="#333333"/>
<circle cx="1088.3" cy="1485.0" r="7" fill="#333333"/>
<line x1="1373.1" x2="1373.1" y1="1080.2" y2="1233.7" stroke="#333333" stroke-width="3.8"/>
<line x1="1373.1" x2="1373.1" y1="1339.9" y2="1437.6" stroke="#333333" stroke-width="3.8"/>
<rect x="1358.6" y="1233.7" width="29.0" height="106.2" fill="#FFFFFF" stroke="#333333" stroke-width="3.8"/>
<line x1="1358.6" x2="1387.6" y1="1290.8" y2="1290.8" stroke="#333333" stroke-width="7.6"/>
<circle cx="1373.1" cy="840.0" r="7" fill="#333333"/>
<circle cx="1373.1" cy="913.0" r="7" fill="#333333"/>
<circle cx="1373.1" cy="925.0" r="7" fill="#333333"/>
<circle cx="1373.1" cy="934.0" r="7" fill="#333333"/>
<circle cx="1373.1" cy="1001.4" r="7" fill="#333333"/>
<circle cx="1373.1" cy="1022.0" r="7" fill="#333333"/>
<circle cx="1373.1" cy="1052.0" r="7" fill="#333333"/>
<rect x="918" y="1351" width="626" height="8" fill="#000000"/>
<rect x="918" y="1266" width="626" height="8" fill="#BE3553"/>
<rect x="918" y="1261" width="626" height="8" fill="#FCFC9E"/>
</g>
<line x1="908" x2="918" y1="1358.0" y2="1358.0" stroke="#333333" stroke-width="3.8"/>
<text x="898" y="1373.6" font-size="34.5" class="g" text-anchor="end">1.0</text>
<line x1="908" x2="918" y1="1165.5" y2="1165.5" stroke="#333333" stroke-width="3.8"/>
<text x="898" y="1181.1" font-size="34.5" class="g" text-anchor="end">1.5</text>
<line x1="908" x2="918" y1="971.5" y2="971.5" stroke="#333333" stroke-width="3.8"/>
<text x="898" y="987.1" font-size="34.5" class="g" text-anchor="end">2.0</text>
<line x1="1088.7" x2="1088.7" y1="1518" y2="1528" stroke="#333333" stroke-width="3.8"/>
<text x="1088.7" y="1567.5" font-size="34.5" class="g" text-anchor="middle">Chimpanzee</text>
<line x1="1373.3" x2="1373.3" y1="1518" y2="1528" stroke="#333333" stroke-width="3.8"/>
<text x="1373.3" y="1567.5" font-size="34.5" class="g" text-anchor="middle">Gorilla</text>
<text transform="translate(812,1164.5) rotate(-90)" x="0" y="16" font-size="45" class="k" text-anchor="middle">M2</text>
<defs><clipPath id="cM3"><rect x="1710" y="811" width="626" height="707"/></clipPath></defs>
<rect x="1710" y="811" width="626" height="707" fill="#EBEBEB"/>
<g clip-path="url(#cM3)">
<line x1="1710" x2="2336" y1="1495.0" y2="1495.0" stroke="#FFF" stroke-width="2"/>
<line x1="1710" x2="2336" y1="1309.0" y2="1309.0" stroke="#FFF" stroke-width="2"/>
<line x1="1710" x2="2336" y1="1128.0" y2="1128.0" stroke="#FFF" stroke-width="2"/>
<line x1="1710" x2="2336" y1="939.0" y2="939.0" stroke="#FFF" stroke-width="2"/>
<line x1="1710" x2="2336" y1="1402.0" y2="1402.0" stroke="#FFF" stroke-width="4"/>
<line x1="1710" x2="2336" y1="1218.0" y2="1218.0" stroke="#FFF" stroke-width="4"/>
<line x1="1710" x2="2336" y1="1030.0" y2="1030.0" stroke="#FFF" stroke-width="4"/>
<line x1="1710" x2="2336" y1="846.0" y2="846.0" stroke="#FFF" stroke-width="4"/>
<line x1="1881.0" x2="1881.0" y1="811" y2="1518" stroke="#FFF" stroke-width="4"/>
<line x1="2165.0" x2="2165.0" y1="811" y2="1518" stroke="#FFF" stroke-width="4"/>
<path d="M1874.7,1143.3 L1874.6,1144.5 L1874.6,1146.1 L1874.5,1148.0 L1874.4,1150.1 L1874.3,1152.2 L1874.1,1154.2 L1873.9,1156.1 L1873.6,1158.1 L1873.2,1160.2 L1872.9,1162.2 L1872.6,1164.3 L1872.3,1166.3 L1872.1,1168.3 L1871.9,1170.3 L1871.8,1172.3 L1871.6,1174.4 L1871.4,1176.4 L1871.1,1178.4 L1870.7,1180.4 L1870.3,1182.4 L1869.8,1184.5 L1869.3,1186.5 L1868.7,1188.5 L1868.0,1190.5 L1867.3,1192.5 L1866.5,1194.5 L1865.6,1196.5 L1864.7,1198.6 L1863.7,1200.6 L1862.6,1202.6 L1861.4,1204.6 L1860.0,1206.6 L1858.6,1208.6 L1857.1,1210.7 L1855.6,1212.7 L1854.1,1214.7 L1852.6,1216.7 L1851.0,1218.8 L1849.4,1220.8 L1847.8,1222.8 L1846.3,1224.9 L1845.0,1226.9 L1843.8,1228.9 L1842.7,1230.9 L1841.6,1233.0 L1840.7,1235.0 L1839.8,1237.0 L1839.0,1239.0 L1838.3,1241.0 L1837.8,1243.0 L1837.3,1245.0 L1836.9,1247.1 L1836.4,1249.1 L1836.0,1251.1 L1835.6,1253.1 L1835.2,1255.1 L1834.9,1257.1 L1834.5,1259.2 L1834.0,1261.2 L1833.5,1263.2 L1832.9,1265.2 L1832.3,1267.2 L1831.6,1269.2 L1830.8,1271.3 L1829.9,1273.3 L1828.7,1275.3 L1827.3,1277.3 L1825.7,1279.3 L1824.0,1281.3 L1822.1,1283.4 L1820.0,1285.4 L1817.8,1287.4 L1815.3,1289.4 L1812.5,1291.4 L1809.6,1293.5 L1806.6,1295.5 L1803.6,1297.5 L1800.8,1299.5 L1798.0,1301.5 L1795.2,1303.6 L1792.5,1305.6 L1789.8,1307.6 L1787.3,1309.6 L1785.1,1311.6 L1783.1,1313.6 L1781.4,1315.6 L1779.8,1317.6 L1778.4,1319.5 L1777.1,1321.3 L1775.8,1323.0 L1774.7,1324.5 L1773.7,1325.8 L1772.8,1327.0 L1772.0,1328.2 L1771.1,1329.5 L1770.1,1330.9 L1768.9,1332.5 L1767.7,1334.3 L1766.4,1336.2 L1765.1,1338.1 L1763.8,1339.9 L1762.5,1341.8 L1761.2,1343.6 L1759.8,1345.5 L1758.4,1347.4 L1757.0,1349.2 L1755.9,1351.0 L1754.9,1352.7 L1754.2,1354.3 L1753.6,1355.8 L1753.1,1357.3 L1752.8,1358.7 L1752.7,1360.0 L1752.7,1361.4 L1752.9,1362.7 L1753.2,1364.0 L1753.7,1365.2 L1754.4,1366.4 L1755.1,1367.7 L1756.0,1369.0 L1757.0,1370.4 L1758.1,1371.9 L1759.3,1373.3 L1760.7,1374.8 L1762.1,1376.3 L1763.6,1377.7 L1765.1,1379.0 L1766.7,1380.2 L1768.3,1381.4 L1770.1,1382.6 L1772.1,1383.9 L1774.5,1385.4 L1777.3,1387.0 L1780.5,1388.8 L1784.0,1390.7 L1787.5,1392.5 L1790.9,1394.4 L1794.1,1396.3 L1797.0,1398.1 L1799.7,1399.9 L1802.4,1401.8 L1805.0,1403.6 L1807.7,1405.4 L1810.4,1407.2 L1813.3,1409.0 L1816.3,1410.8 L1819.3,1412.7 L1822.3,1414.5 L1825.2,1416.3 L1827.9,1418.1 L1830.5,1419.9 L1833.0,1421.7 L1835.4,1423.5 L1837.7,1425.4 L1839.9,1427.2 L1842.0,1429.0 L1843.9,1430.8 L1845.7,1432.6 L1847.4,1434.5 L1848.9,1436.3 L1850.4,1438.1 L1851.8,1439.9 L1853.1,1441.7 L1854.3,1443.5 L1855.4,1445.3 L1856.5,1447.1 L1857.5,1448.9 L1858.4,1450.7 L1859.3,1452.5 L1860.0,1454.3 L1860.8,1456.1 L1861.4,1458.0 L1862.1,1459.8 L1862.7,1461.6 L1863.3,1463.4 L1863.9,1465.2 L1864.4,1467.0 L1864.9,1468.9 L1865.5,1470.7 L1866.0,1472.5 L1866.6,1474.4 L1867.2,1476.5 L1867.9,1478.6 L1868.4,1480.5 L1868.9,1482.2 L1869.3,1483.4 L1869.5,1484.2 L1869.5,1484.5 L1869.5,1484.6 L1869.4,1484.6 L1869.3,1484.5 L1869.3,1484.5 L1892.3,1484.5 L1892.3,1484.5 L1892.2,1484.6 L1892.1,1484.6 L1892.1,1484.5 L1892.1,1484.2 L1892.3,1483.4 L1892.7,1482.2 L1893.2,1480.5 L1893.7,1478.6 L1894.4,1476.5 L1895.0,1474.4 L1895.6,1472.5 L1896.1,1470.7 L1896.7,1468.9 L1897.2,1467.0 L1897.7,1465.2 L1898.3,1463.4 L1898.9,1461.6 L1899.5,1459.8 L1900.2,1458.0 L1900.8,1456.1 L1901.6,1454.3 L1902.3,1452.5 L1903.2,1450.7 L1904.1,1448.9 L1905.1,1447.1 L1906.2,1445.3 L1907.3,1443.5 L1908.5,1441.7 L1909.8,1439.9 L1911.2,1438.1 L1912.7,1436.3 L1914.2,1434.5 L1915.9,1432.6 L1917.7,1430.8 L1919.6,1429.0 L1921.7,1427.2 L1923.9,1425.4 L1926.2,1423.5 L1928.6,1421.7 L1931.1,1419.9 L1933.7,1418.1 L1936.4,1416.3 L1939.3,1414.5 L1942.3,1412.7 L1945.3,1410.8 L1948.3,1409.0 L1951.2,1407.2 L1953.9,1405.4 L1956.6,1403.6 L1959.2,1401.8 L1961.9,1399.9 L1964.6,1398.1 L1967.5,1396.3 L1970.7,1394.4 L1974.1,1392.5 L1977.6,1390.7 L1981.1,1388.8 L1984.3,1387.0 L1987.1,1385.4 L1989.5,1383.9 L1991.5,1382.6 L1993.3,1381.4 L1994.9,1380.2 L1996.5,1379.0 L1998.0,1377.7 L1999.5,1376.3 L2000.9,1374.8 L2002.3,1373.3 L2003.5,1371.9 L2004.6,1370.4 L2005.6,1369.0 L2006.5,1367.7 L2007.2,1366.4 L2007.9,1365.2 L2008.4,1364.0 L2008.7,1362.7 L2008.9,1361.4 L2008.9,1360.0 L2008.8,1358.7 L2008.5,1357.3 L2008.0,1355.8 L2007.4,1354.3 L2006.7,1352.7 L2005.7,1351.0 L2004.6,1349.2 L2003.2,1347.4 L2001.8,1345.5 L2000.4,1343.6 L1999.1,1341.8 L1997.8,1339.9 L1996.5,1338.1 L1995.2,1336.2 L1993.9,1334.3 L1992.7,1332.5 L1991.5,1330.9 L1990.5,1329.5 L1989.6,1328.2 L1988.8,1327.0 L1987.9,1325.8 L1986.9,1324.5 L1985.8,1323.0 L1984.5,1321.3 L1983.2,1319.5 L1981.8,1317.6 L1980.2,1315.6 L1978.5,1313.6 L1976.5,1311.6 L1974.3,1309.6 L1971.8,1307.6 L1969.1,1305.6 L1966.4,1303.6 L1963.6,1301.5 L1960.8,1299.5 L1958.0,1297.5 L1955.0,1295.5 L1952.0,1293.5 L1949.1,1291.4 L1946.3,1289.4 L1943.8,1287.4 L1941.6,1285.4 L1939.5,1283.4 L1937.6,1281.3 L1935.9,1279.3 L1934.3,1277.3 L1932.9,1275.3 L1931.7,1273.3 L1930.8,1271.3 L1930.0,1269.2 L1929.3,1267.2 L1928.7,1265.2 L1928.1,1263.2 L1927.6,1261.2 L1927.1,1259.2 L1926.7,1257.1 L1926.4,1255.1 L1926.0,1253.1 L1925.6,1251.1 L1925.2,1249.1 L1924.7,1247.1 L1924.3,1245.0 L1923.8,1243.0 L1923.3,1241.0 L1922.6,1239.0 L1921.8,1237.0 L1920.9,1235.0 L1920.0,1233.0 L1918.9,1230.9 L1917.8,1228.9 L1916.6,1226.9 L1915.3,1224.9 L1913.8,1222.8 L1912.2,1220.8 L1910.6,1218.8 L1909.0,1216.7 L1907.5,1214.7 L1906.0,1212.7 L1904.5,1210.7 L1903.0,1208.6 L1901.6,1206.6 L1900.2,1204.6 L1899.0,1202.6 L1897.9,1200.6 L1896.9,1198.6 L1896.0,1196.5 L1895.1,1194.5 L1894.3,1192.5 L1893.6,1190.5 L1892.9,1188.5 L1892.3,1186.5 L1891.8,1184.5 L1891.3,1182.4 L1890.9,1180.4 L1890.5,1178.4 L1890.2,1176.4 L1890.0,1174.4 L1889.8,1172.3 L1889.7,1170.3 L1889.5,1168.3 L1889.3,1166.3 L1889.0,1164.3 L1888.7,1162.2 L1888.4,1160.2 L1888.0,1158.1 L1887.7,1156.1 L1887.5,1154.2 L1887.3,1152.2 L1887.2,1150.1 L1887.1,1148.0 L1887.0,1146.1 L1887.0,1144.5 L1886.9,1143.3Z" fill="#333337" fill-opacity="0.64" stroke="#333333" stroke-width="3.5" stroke-linejoin="round"/>
<path d="M2162.3,848.0 L2162.3,848.4 L2162.4,848.7 L2162.4,849.2 L2162.4,850.1 L2162.4,851.7 L2162.3,854.1 L2162.1,857.7 L2161.8,862.4 L2161.5,867.8 L2161.2,873.3 L2160.8,878.6 L2160.4,883.1 L2160.0,886.9 L2159.5,890.3 L2159.0,893.4 L2158.4,896.4 L2157.9,899.4 L2157.5,902.5 L2157.1,905.7 L2156.8,909.0 L2156.4,912.2 L2156.1,915.4 L2155.8,918.7 L2155.5,921.9 L2155.2,925.1 L2154.9,928.3 L2154.5,931.5 L2154.2,934.8 L2153.9,938.0 L2153.6,941.2 L2153.3,944.3 L2152.9,947.3 L2152.5,950.3 L2152.2,953.4 L2151.9,956.8 L2151.7,960.6 L2151.6,965.0 L2151.5,969.9 L2151.4,975.2 L2151.4,980.4 L2151.5,985.3 L2151.7,989.7 L2152.0,993.5 L2152.5,996.9 L2153.0,1000.0 L2153.5,1002.9 L2154.1,1005.9 L2154.6,1009.0 L2155.1,1012.2 L2155.6,1015.5 L2156.1,1018.7 L2156.6,1021.9 L2157.1,1025.2 L2157.5,1028.4 L2157.9,1031.5 L2158.3,1034.5 L2158.7,1037.5 L2159.0,1040.6 L2159.3,1044.0 L2159.4,1047.8 L2159.4,1052.2 L2159.4,1057.1 L2159.3,1062.3 L2159.1,1067.5 L2158.9,1072.4 L2158.5,1076.8 L2158.1,1080.6 L2157.5,1084.0 L2156.9,1087.1 L2156.2,1090.1 L2155.5,1093.1 L2154.6,1096.2 L2153.6,1099.4 L2152.6,1102.7 L2151.4,1105.9 L2150.2,1109.1 L2149.0,1112.4 L2147.8,1115.6 L2146.7,1118.8 L2145.6,1122.0 L2144.4,1125.2 L2143.3,1128.4 L2142.0,1131.6 L2140.7,1135.0 L2139.2,1138.5 L2137.7,1142.0 L2136.1,1145.6 L2134.4,1149.3 L2132.7,1152.9 L2131.0,1156.5 L2129.3,1160.1 L2127.5,1163.7 L2125.7,1167.2 L2123.8,1170.8 L2122.0,1174.4 L2120.2,1178.0 L2118.3,1181.6 L2116.4,1185.2 L2114.5,1188.8 L2112.7,1192.3 L2111.0,1195.9 L2109.5,1199.5 L2108.3,1203.1 L2107.2,1206.6 L2106.3,1210.2 L2105.5,1213.8 L2104.7,1217.3 L2104.1,1220.9 L2103.5,1224.5 L2103.1,1228.1 L2102.7,1231.6 L2102.4,1235.2 L2102.2,1238.8 L2102.0,1242.4 L2101.9,1246.0 L2101.8,1249.6 L2101.7,1253.2 L2101.8,1256.7 L2101.9,1260.3 L2102.0,1263.9 L2102.2,1267.5 L2102.5,1271.1 L2102.8,1274.7 L2103.2,1278.2 L2103.7,1281.8 L2104.1,1285.4 L2104.6,1289.0 L2105.1,1292.6 L2105.7,1296.2 L2106.3,1299.7 L2106.8,1303.3 L2107.4,1306.9 L2107.9,1310.5 L2108.5,1314.1 L2109.0,1317.7 L2109.5,1321.2 L2110.1,1324.8 L2110.6,1328.4 L2111.1,1332.0 L2111.7,1335.6 L2112.2,1339.2 L2112.7,1342.7 L2113.3,1346.3 L2113.8,1349.9 L2114.3,1353.5 L2114.8,1357.1 L2115.3,1360.7 L2115.8,1364.2 L2116.3,1367.8 L2117.0,1371.4 L2117.8,1375.0 L2118.6,1378.5 L2119.5,1382.1 L2120.4,1385.7 L2121.4,1389.2 L2122.4,1392.8 L2123.4,1396.4 L2124.4,1400.0 L2125.4,1403.5 L2126.5,1407.1 L2127.6,1410.7 L2128.8,1414.3 L2130.1,1417.9 L2131.5,1421.5 L2133.0,1425.0 L2134.5,1428.6 L2136.0,1432.2 L2137.4,1435.8 L2138.7,1439.4 L2140.0,1443.0 L2141.3,1446.7 L2142.6,1450.3 L2143.8,1453.8 L2145.0,1457.3 L2146.3,1460.9 L2147.6,1464.6 L2148.9,1468.3 L2150.1,1471.7 L2151.1,1474.5 L2151.8,1476.6 L2179.8,1476.6 L2180.5,1474.5 L2181.5,1471.7 L2182.7,1468.3 L2184.0,1464.6 L2185.3,1460.9 L2186.6,1457.3 L2187.8,1453.8 L2189.0,1450.3 L2190.3,1446.7 L2191.6,1443.0 L2192.9,1439.4 L2194.2,1435.8 L2195.6,1432.2 L2197.1,1428.6 L2198.6,1425.0 L2200.1,1421.5 L2201.5,1417.9 L2202.8,1414.3 L2204.0,1410.7 L2205.1,1407.1 L2206.2,1403.5 L2207.2,1400.0 L2208.2,1396.4 L2209.2,1392.8 L2210.2,1389.2 L2211.2,1385.7 L2212.1,1382.1 L2213.0,1378.5 L2213.8,1375.0 L2214.6,1371.4 L2215.3,1367.8 L2215.8,1364.2 L2216.3,1360.7 L2216.8,1357.1 L2217.3,1353.5 L2217.8,1349.9 L2218.3,1346.3 L2218.9,1342.7 L2219.4,1339.2 L2219.9,1335.6 L2220.5,1332.0 L2221.0,1328.4 L2221.5,1324.8 L2222.1,1321.2 L2222.6,1317.7 L2223.1,1314.1 L2223.7,1310.5 L2224.2,1306.9 L2224.8,1303.3 L2225.3,1299.7 L2225.9,1296.2 L2226.5,1292.6 L2227.0,1289.0 L2227.5,1285.4 L2227.9,1281.8 L2228.4,1278.2 L2228.8,1274.7 L2229.1,1271.1 L2229.4,1267.5 L2229.6,1263.9 L2229.7,1260.3 L2229.8,1256.7 L2229.9,1253.2 L2229.8,1249.6 L2229.7,1246.0 L2229.6,1242.4 L2229.4,1238.8 L2229.2,1235.2 L2228.9,1231.6 L2228.5,1228.1 L2228.1,1224.5 L2227.5,1220.9 L2226.9,1217.3 L2226.1,1213.8 L2225.3,1210.2 L2224.4,1206.6 L2223.3,1203.1 L2222.1,1199.5 L2220.6,1195.9 L2218.9,1192.3 L2217.1,1188.8 L2215.2,1185.2 L2213.3,1181.6 L2211.4,1178.0 L2209.6,1174.4 L2207.8,1170.8 L2205.9,1167.2 L2204.1,1163.7 L2202.3,1160.1 L2200.6,1156.5 L2198.9,1152.9 L2197.2,1149.3 L2195.5,1145.6 L2193.9,1142.0 L2192.4,1138.5 L2190.9,1135.0 L2189.6,1131.6 L2188.3,1128.4 L2187.2,1125.2 L2186.0,1122.0 L2184.9,1118.8 L2183.8,1115.6 L2182.6,1112.4 L2181.4,1109.1 L2180.2,1105.9 L2179.0,1102.7 L2178.0,1099.4 L2177.0,1096.2 L2176.1,1093.1 L2175.4,1090.1 L2174.7,1087.1 L2174.1,1084.0 L2173.5,1080.6 L2173.1,1076.8 L2172.7,1072.4 L2172.5,1067.5 L2172.3,1062.3 L2172.2,1057.1 L2172.2,1052.2 L2172.2,1047.8 L2172.3,1044.0 L2172.6,1040.6 L2172.9,1037.5 L2173.3,1034.5 L2173.7,1031.5 L2174.1,1028.4 L2174.5,1025.2 L2175.0,1021.9 L2175.5,1018.7 L2176.0,1015.5 L2176.5,1012.2 L2177.0,1009.0 L2177.5,1005.9 L2178.1,1002.9 L2178.6,1000.0 L2179.1,996.9 L2179.6,993.5 L2179.9,989.7 L2180.1,985.3 L2180.2,980.4 L2180.2,975.2 L2180.1,969.9 L2180.0,965.0 L2179.9,960.6 L2179.7,956.8 L2179.4,953.4 L2179.1,950.3 L2178.7,947.3 L2178.3,944.3 L2178.0,941.2 L2177.7,938.0 L2177.4,934.8 L2177.1,931.5 L2176.7,928.3 L2176.4,925.1 L2176.1,921.9 L2175.8,918.7 L2175.5,915.4 L2175.2,912.2 L2174.8,909.0 L2174.5,905.7 L2174.1,902.5 L2173.7,899.4 L2173.2,896.4 L2172.6,893.4 L2172.1,890.3 L2171.6,886.9 L2171.2,883.1 L2170.8,878.6 L2170.4,873.3 L2170.1,867.8 L2169.8,862.4 L2169.5,857.7 L2169.3,854.1 L2169.2,851.7 L2169.2,850.1 L2169.2,849.2 L2169.2,848.7 L2169.3,848.4 L2169.3,848.0Z" fill="#F8F8B1" fill-opacity="0.6" stroke="#333333" stroke-width="3.5" stroke-linejoin="round"/>
<line x1="1880.8" x2="1880.8" y1="1210.5" y2="1301.3" stroke="#333333" stroke-width="3.8"/>
<line x1="1880.8" x2="1880.8" y1="1374.9" y2="1484.5" stroke="#333333" stroke-width="3.8"/>
<rect x="1866.3" y="1301.3" width="29.0" height="73.6" fill="#FFFFFF" stroke="#333333" stroke-width="3.8"/>
<line x1="1866.3" x2="1895.3" y1="1346.7" y2="1346.7" stroke="#333333" stroke-width="7.6"/>
<circle cx="1880.8" cy="1145.7" r="7" fill="#333333"/>
<circle cx="1880.8" cy="1174.0" r="7" fill="#333333"/>
<circle cx="1880.8" cy="1180.0" r="7" fill="#333333"/>
<circle cx="1880.8" cy="1186.0" r="7" fill="#333333"/>
<line x1="2165.8" x2="2165.8" y1="970.3" y2="1193.8" stroke="#333333" stroke-width="3.8"/>
<line x1="2165.8" x2="2165.8" y1="1345.9" y2="1476.6" stroke="#333333" stroke-width="3.8"/>
<rect x="2151.3" y="1193.8" width="29.0" height="152.1" fill="#FFFFFF" stroke="#333333" stroke-width="3.8"/>
<line x1="2151.3" x2="2180.3" y1="1270.4" y2="1270.4" stroke="#333333" stroke-width="7.6"/>
<circle cx="2165.8" cy="840.5" r="7" fill="#333333"/>
<circle cx="2165.8" cy="848.0" r="7" fill="#333333"/>
<circle cx="2165.8" cy="915.0" r="7" fill="#333333"/>
<circle cx="2165.8" cy="925.0" r="7" fill="#333333"/>
<circle cx="2165.8" cy="935.0" r="7" fill="#333333"/>
<circle cx="2165.8" cy="945.0" r="7" fill="#333333"/>
<circle cx="2165.8" cy="955.0" r="7" fill="#333333"/>
<rect x="1710" y="1274" width="626" height="8" fill="#BE3553"/>
</g>
<line x1="1700" x2="1710" y1="1401.5" y2="1401.5" stroke="#333333" stroke-width="3.8"/>
<text x="1690" y="1417.1" font-size="34.5" class="g" text-anchor="end">1.0</text>
<line x1="1700" x2="1710" y1="1217.5" y2="1217.5" stroke="#333333" stroke-width="3.8"/>
<text x="1690" y="1233.1" font-size="34.5" class="g" text-anchor="end">1.5</text>
<line x1="1700" x2="1710" y1="1030.5" y2="1030.5" stroke="#333333" stroke-width="3.8"/>
<text x="1690" y="1046.1" font-size="34.5" class="g" text-anchor="end">2.0</text>
<line x1="1700" x2="1710" y1="845.5" y2="845.5" stroke="#333333" stroke-width="3.8"/>
<text x="1690" y="861.1" font-size="34.5" class="g" text-anchor="end">2.5</text>
<line x1="1880.7" x2="1880.7" y1="1518" y2="1528" stroke="#333333" stroke-width="3.8"/>
<text x="1880.7" y="1567.5" font-size="34.5" class="g" text-anchor="middle">Chimpanzee</text>
<line x1="2165.3" x2="2165.3" y1="1518" y2="1528" stroke="#333333" stroke-width="3.8"/>
<text x="2165.3" y="1567.5" font-size="34.5" class="g" text-anchor="middle">Gorilla</text>
<text transform="translate(1606,1164.5) rotate(-90)" x="0" y="16" font-size="45" class="k" text-anchor="middle">M3</text>
<text x="304" y="1691.5" font-size="44" class="k">Specimens</text>
<rect x="543.2" y="1638" width="70" height="70" fill="#EBEBEB"/>
<rect x="551.0" y="1668.8" width="54.5" height="8" fill="#000000"/>
<text x="637.0" y="1688.5" font-size="35" class="k">D2282-D211/D2700-D2735</text>
<rect x="1081.9" y="1638" width="70" height="70" fill="#EBEBEB"/>
<rect x="1089.7" y="1668.8" width="54.5" height="8" fill="#BE3553"/>
<text x="1172.6" y="1688.5" font-size="35" class="k">D4500-D2600/D2282-D211</text>
<rect x="1621.0" y="1638" width="70" height="70" fill="#EBEBEB"/>
<rect x="1628.8" y="1668.8" width="54.5" height="8" fill="#FCFC9E"/>
<text x="1711.0" y="1688.5" font-size="35" class="k">D4500-D2600/D2700-D2735</text>
</svg>
</body></html>
